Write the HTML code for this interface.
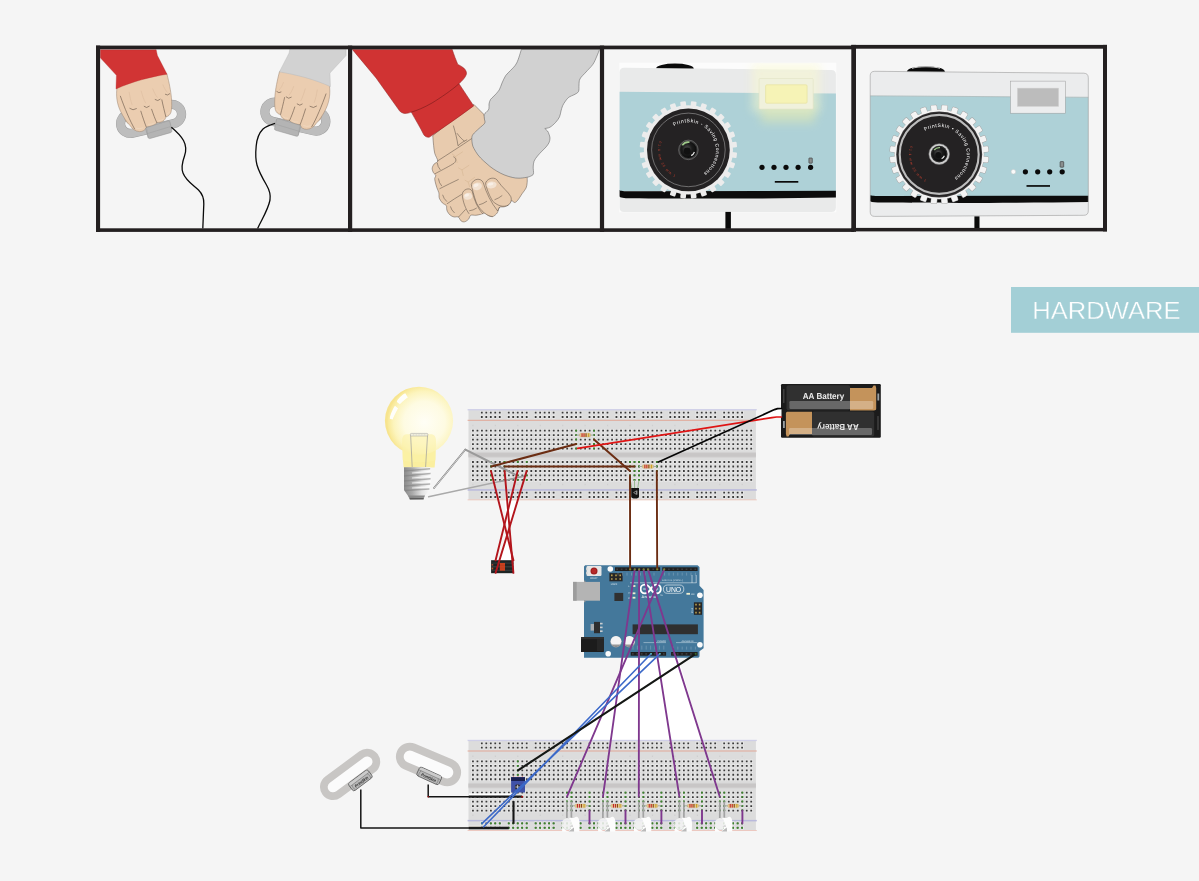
<!DOCTYPE html>
<html lang="en"><head><meta charset="utf-8"><title>Hardware</title>
<style>
html,body{margin:0;padding:0;background:#f5f5f5;}
body{width:1199px;height:881px;overflow:hidden;font-family:"Liberation Sans",sans-serif;}
svg{display:block}
svg text{font-family:"Liberation Sans",sans-serif;text-rendering:geometricPrecision;opacity:0.99;}
</style></head><body>
<svg width="1199" height="881" viewBox="0 0 1199 881">
<rect width="1199" height="881" fill="#f5f5f5"/>
<!-- panel 1: two hands gripping sensor rings -->
<defs>
<g id="gripHand" transform="translate(96,44) scale(0.11351)">
  <!-- ring -->
  <g transform="translate(485,660) rotate(-13)" fill="none">
    <rect x="-273.5" y="-85.5" width="547" height="171" rx="85.5" stroke="#9d9d9d" stroke-width="81"/>
    <rect x="-273.5" y="-85.5" width="547" height="171" rx="85.5" stroke="#bdbdbd" stroke-width="74"/>
  </g>
  <!-- thumb peeking -->
  <path d="M255,655 C270,640 300,660 300,690 C290,705 265,700 255,655 Z" fill="#ebcdb0" stroke="#9a826e" stroke-width="4.4"/>
  <!-- hand -->
  <path d="M190,300 L185,385 C176,450 182,520 215,590 C240,640 270,690 300,718 C318,745 345,770 385,772 C412,772 436,758 445,732 C458,728 482,728 502,718 C520,710 532,702 538,692 C556,694 582,688 598,674 C610,662 614,650 616,642 C636,638 654,624 661,600 C669,570 668,520 664,470 C660,420 645,340 625,265 L600,240 Z" fill="#ebcdb0" stroke="#9a826e" stroke-width="4.4" stroke-linejoin="round"/>
  <!-- shading -->
  <g fill="none" stroke="#dfc0a3" stroke-width="7" stroke-linecap="round">
    <path d="M292,425 C300,470 305,500 318,535"/>
    <path d="M398,415 C410,455 420,490 437,520"/>
    <path d="M500,395 C512,425 522,450 540,470"/>
    <path d="M590,360 C600,385 612,410 628,425"/>
  </g>
  <!-- finger separations -->
  <g fill="none" stroke="#6a584a" stroke-width="5.6" stroke-linecap="round">
    <path d="M215,460 C250,560 300,680 340,748"/>
    <path d="M395,592 C410,640 430,700 444,734"/>
    <path d="M490,575 C505,620 520,660 536,694"/>
    <path d="M580,492 C590,540 605,600 615,640"/>
    <path d="M298,568 Q325,592 356,570"/>
    <path d="M424,550 Q445,572 469,549"/>
    <path d="M521,490 Q545,510 566,487"/>
    <path d="M611,444 Q630,459 649,439"/>
  </g>
  <g fill="none" stroke="#f4dfcb" stroke-width="4" stroke-linecap="round">
    <path d="M352,742 Q385,752 412,740"/>
    <path d="M462,708 Q490,712 512,698"/>
    <path d="M552,676 Q575,676 592,662"/>
    <path d="M625,618 Q640,612 648,598"/>
  </g>
  <!-- connector -->
  <path d="M438,750 C436,742 440,738 448,735 L632,678 C642,675 648,678 651,686 L668,762 C670,772 666,778 657,781 L478,832 C468,835 462,832 459,824 Z" fill="#b4b4b4" stroke="#939393" stroke-width="4.5"/>
  <path d="M450,790 L655,728" fill="none" stroke="#9b9b9b" stroke-width="4"/>
  <path d="M447,745 L460,826" fill="none" stroke="#9b9b9b" stroke-width="4"/>
</g>
</defs>
<use href="#gripHand"/>
<g transform="translate(96,44) scale(0.11351)"><path d="M38,50 L530,50 L541,102 L626,266 C480,290 320,330 176,396 L180,276 L38,122 Z" fill="#d13434" stroke="#b32b2b" stroke-width="3" stroke-linejoin="round"/></g>
<g transform="translate(446.4,-2.3) scale(-1,1)"><use href="#gripHand"/>
<g transform="translate(96,44) scale(0.11351)"><path d="M38,50 L530,50 L541,102 L626,266 C480,290 320,330 176,396 L180,276 L38,122 Z" fill="#d2d2d2" stroke="#aeaeae" stroke-width="3" stroke-linejoin="round"/></g></g>
<path d="M171.4,127.2 C176,131 181,136 183.5,140.5 C186.5,146 186.6,150 184.5,156 C182,163 181,168 183,173 C186,181 194,185.5 198.5,190 C203.5,195 204,199 203.8,204 L202.8,228.5" fill="none" stroke="#0a0a0a" stroke-width="1.3"/>
<path d="M275,123.4 C270,125 266,126.5 263,129 C258,134 256.8,139 256.2,146 C255.5,153 255.6,160 257,165 C259,172 263,179 266.5,185 C270,191 270.8,195 270,200 C268,210 262,219 257.6,228.5" fill="none" stroke="#0a0a0a" stroke-width="1.3"/>

<!-- panel 2: holding hands -->
<g transform="translate(420,120) scale(0.14178)">
<path d="M90.0,110.0 C91.0,121.7 93.7,159.2 96.0,180.0 C98.3,200.8 99.2,216.7 104.0,235.0 C108.8,253.3 125.7,277.5 125.0,290.0 C124.3,302.5 106.5,301.5 100.0,310.0 C93.5,318.5 86.8,330.7 86.0,341.0 C85.2,351.3 90.8,363.7 95.0,372.0 C99.2,380.3 109.5,384.3 111.0,391.0 C112.5,397.7 104.7,404.7 104.0,412.0 C103.3,419.3 104.7,424.5 107.0,435.0 C109.3,445.5 113.7,462.0 118.0,475.0 C122.3,488.0 130.3,503.0 133.0,513.0 C135.7,523.0 133.2,527.8 134.0,535.0 C134.8,542.2 134.0,547.7 138.0,556.0 C142.0,564.3 150.2,577.2 158.0,585.0 C165.8,592.8 180.0,596.3 185.0,603.0 C190.0,609.7 186.7,618.0 188.0,625.0 C189.3,632.0 189.0,637.5 193.0,645.0 C197.0,652.5 204.2,663.5 212.0,670.0 C219.8,676.5 230.3,681.7 240.0,684.0 C249.7,686.3 261.7,679.3 270.0,684.0 C278.3,688.7 282.5,706.3 290.0,712.0 C297.5,717.7 306.3,720.0 315.0,718.0 C323.7,716.0 334.8,707.7 342.0,700.0 C349.2,692.3 349.2,676.7 358.0,672.0 C366.8,667.3 382.7,673.3 395.0,672.0 C407.3,670.7 421.5,666.7 432.0,664.0 C442.5,661.3 449.2,654.0 458.0,656.0 C466.8,658.0 475.5,672.0 485.0,676.0 C494.5,680.0 505.0,683.5 515.0,680.0 C525.0,676.5 537.5,665.5 545.0,655.0 C552.5,644.5 551.7,624.2 560.0,617.0 C568.3,609.8 584.2,615.3 595.0,612.0 C605.8,608.7 616.7,604.0 625.0,597.0 C633.3,590.0 637.8,572.5 645.0,570.0 C652.2,567.5 660.5,582.8 668.0,582.0 C675.5,581.2 681.3,575.3 690.0,565.0 C698.7,554.7 710.3,534.2 720.0,520.0 C729.7,505.8 742.0,493.3 748.0,480.0 C754.0,466.7 754.7,452.5 756.0,440.0 C757.3,427.5 756.0,410.8 756.0,405.0 L700,300 L560,150 L470,20 L450,-40 L380,-110 L300,-60 Z" fill="#e8cbae" stroke="#4d433b" stroke-width="3.2" stroke-linejoin="round"/>
<g fill="none" stroke="#d9b998" stroke-width="5" stroke-linecap="round">
<path d="M228,240 L250,258 L300,225"/>
<path d="M250,258 L262,300"/>
<path d="M272,338 L296,352 L345,320"/>
<path d="M296,352 L305,392"/>
<path d="M318,425 L340,438 L385,405"/>
<path d="M340,438 L350,470"/>
</g>
<g fill="none" stroke="#4d433b" stroke-width="3.4" stroke-linecap="round" stroke-linejoin="round">
<path d="M125,288 C200,240 290,182 366,130"/>
<path d="M108,378 C160,350 210,325 240,305 C258,290 256,268 238,260"/>
<path d="M140,484 C185,460 230,440 270,420"/>
<path d="M192,590 C225,566 260,546 292,526"/>
<path d="M272,684 C290,666 305,648 320,632"/>
<path d="M122,305 Q124,330 142,350"/>
<path d="M130,415 Q134,445 152,464"/>
<path d="M160,530 Q167,556 188,574"/>
<path d="M215,612 Q221,636 242,654"/>
<path d="M236,42 C250,90 262,135 268,182 C285,165 305,152 330,140"/>
<path d="M262,95 C280,120 295,135 312,148"/>
</g>
<g fill="#e8cbae" stroke="#4d433b" stroke-width="3.4" stroke-linecap="round" stroke-linejoin="round">
<path d="M620,602 C590,615 555,612 512,572 C482,520 468,478 462,445 C480,402 535,400 550,432 C580,478 622,505 640,540 C650,565 640,590 620,602"/>
<path d="M512,682 C470,676 430,645 398,585 C378,530 368,485 362,455 C375,412 430,405 446,442 C468,515 500,582 548,642 L560,617"/>
<path d="M345,660 C322,630 300,570 298,525 C300,490 350,470 368,502 C382,565 405,620 442,662"/>
</g>
<g fill="#f2e2d2" stroke="none"><ellipse cx="338" cy="538" rx="30" ry="24" transform="rotate(-15 338 538)"/><ellipse cx="403" cy="468" rx="34" ry="27" transform="rotate(-15 403 468)"/><ellipse cx="505" cy="458" rx="36" ry="24" transform="rotate(-10 505 458)"/></g>
<g fill="#f8efe6" stroke="none"><ellipse cx="330" cy="530" rx="16" ry="10" transform="rotate(-15 330 530)"/><ellipse cx="396" cy="460" rx="18" ry="11" transform="rotate(-15 396 460)"/><ellipse cx="498" cy="452" rx="20" ry="10" transform="rotate(-10 498 452)"/></g>
<g fill="none" stroke="#4d433b" stroke-width="3.4" stroke-linecap="round">
<path d="M418,598 Q445,592 470,574"/>
<path d="M528,562 Q555,552 578,534"/>
<path d="M350,640 Q375,638 398,622"/>
</g>
</g>
<path d="M352.3,49.4 L452.2,49.4 C454,55 456,60 457.8,64.4 C460,65.5 462,66.5 463.5,67.8 C466,70 467,72.5 466.3,74.6 C465,78 462,81 459,83.7 L473.7,105.9 C460,116 445,126.5 429.5,137.1 C427.5,137.8 425,136.5 423.8,134.8 C420,127 415,119 411.3,112.1 C408,113.5 405.5,113.6 403.3,113.2 C401,112.6 399.6,111.2 398.8,109.8 L376.1,78 Z" fill="#d03333" stroke="#8f1f1f" stroke-width="0.5" stroke-linejoin="round"/>
<path d="M459,83.7 C452,90 441,97.5 432,103 C424,107.6 417,110.5 411.3,112.1" fill="none" stroke="#6e1717" stroke-width="0.55"/>
<path d="M521.4,49.4 C520.6,51.7 518.5,59.5 516.7,63.0 C514.9,66.5 512.4,68.4 510.5,70.5 C508.6,72.6 507.0,73.6 505.6,75.7 C504.2,77.8 503.1,80.6 502.0,83.0 C500.9,85.4 500.5,87.8 499.2,90.0 C497.9,92.2 495.4,94.4 494.0,96.0 C492.6,97.6 491.3,98.2 490.5,99.5 C489.7,100.8 489.3,102.4 489.0,104.0 C488.7,105.6 489.4,107.6 488.9,109.0 C488.4,110.4 486.8,111.6 486.0,112.5 C485.2,113.4 484.5,113.4 484.2,114.5 C483.9,115.6 484.3,117.5 484.4,119.0 C484.5,120.5 485.6,121.6 484.7,123.2 C483.8,124.8 480.9,126.7 479.0,128.5 C477.1,130.3 474.3,132.7 473.1,134.3 C471.9,136.0 471.9,136.8 471.8,138.4 C471.7,140.0 472.0,142.3 472.3,144.0 C472.6,145.7 472.9,146.6 473.9,148.4 C474.8,150.2 476.4,152.9 478.0,155.0 C479.6,157.1 481.8,159.2 483.8,161.1 C485.8,163.0 487.9,164.8 490.0,166.5 C492.1,168.2 494.3,169.6 496.6,171.0 C498.9,172.4 501.4,173.7 504.0,174.8 C506.6,175.9 509.7,176.8 512.2,177.4 C514.7,178.0 516.6,178.2 519.0,178.2 C521.4,178.2 524.4,177.7 526.3,177.4 C528.2,177.1 529.3,176.8 530.5,176.2 C531.7,175.6 532.9,175.4 533.4,173.9 C533.9,172.4 533.1,169.1 533.2,167.0 C533.3,164.9 533.4,162.9 534.1,161.1 C534.8,159.3 536.2,157.7 537.5,156.0 C538.8,154.3 540.5,152.7 541.9,151.2 C543.3,149.7 544.8,148.4 546.0,147.0 C547.2,145.6 548.3,144.2 549.0,142.7 C549.7,141.2 550.0,139.4 550.0,138.0 C550.0,136.6 549.4,135.4 549.0,134.2 C548.6,133.0 548.2,131.9 547.5,131.0 C546.8,130.1 545.2,128.9 544.8,128.5 L544.8,128.5 C545.7,128.3 548.2,128.2 550.0,127.2 C551.8,126.2 553.9,124.2 555.5,122.5 C557.1,120.8 558.6,118.8 559.5,116.9 C560.4,115.0 560.5,112.8 561.0,111.0 C561.5,109.2 561.9,107.5 562.6,105.8 C563.4,104.1 564.4,102.5 565.5,101.0 C566.6,99.5 567.6,98.1 569.0,97.1 C570.4,96.1 572.4,95.7 574.0,94.8 C575.6,93.9 577.7,93.1 578.5,91.5 C579.3,89.9 578.8,87.1 579.0,85.0 C579.2,82.9 578.8,81.1 580.0,78.9 C581.2,76.7 583.9,74.4 586.0,72.0 C588.1,69.6 591.0,67.1 592.7,64.6 C594.5,62.1 595.4,59.5 596.5,57.0 C597.6,54.5 599.1,50.7 599.6,49.4 Z" fill="#d1d1d1" stroke="#555" stroke-width="0.5" stroke-linejoin="round"/>
<!-- camera, flash on -->
<defs><clipPath id="c1clip"><path d="M624.1,67.7 L831.4,70 C834.4,70.1 835.9,71.8 835.9,74.6 V207.4 C835.9,210.4 834.4,211.9 831.4,211.9 H624.1 C621.1,211.9 619.6,210.4 619.6,207.4 V72.2 C619.6,69.2 621.1,67.7 624.1,67.7 Z"/></clipPath>
<radialGradient id="glow" cx="0.5" cy="0.5" r="0.5"><stop offset="0" stop-color="#fbf7b0" stop-opacity="0.95"/><stop offset="0.55" stop-color="#f8f5b8" stop-opacity="0.55"/><stop offset="1" stop-color="#f8f5c0" stop-opacity="0"/></radialGradient>
<radialGradient id="lensg" cx="0.42" cy="0.42" r="0.6"><stop offset="0" stop-color="#555"/><stop offset="0.5" stop-color="#1c1c1c"/><stop offset="1" stop-color="#0a0a0a"/></radialGradient>
</defs>
<rect x="619.2" y="62.8" width="217.1" height="149.5" fill="#fcfcfc"/>
<ellipse cx="674.9" cy="68.6" rx="18.8" ry="5" fill="#0a0a0a"/>
<g clip-path="url(#c1clip)">
<rect x="619" y="67" width="218" height="146" fill="#e9eaea"/>
<path d="M619,91.8 L837,93.6 V191 H619 Z" fill="#aed1d7"/>
<path d="M619,190 C621,191.4 626,191.3 640,191.2 L837,190.8 L837,197.6 C760,199 680,198.6 630,198.2 C624,198.2 620,197.6 619,196.2 Z" fill="#0c0c0c"/>
</g>
<defs><filter id="blur5" x="-50%" y="-50%" width="200%" height="200%"><feGaussianBlur stdDeviation="5"/></filter></defs>
<defs><clipPath id="c1bg"><rect x="619.2" y="62.8" width="217.1" height="149.5"/></clipPath></defs>
<g clip-path="url(#c1bg)"><rect x="752" y="64" width="68" height="48" fill="#fbfacc" opacity="0.5" filter="url(#blur5)"/>
<rect x="761" y="104" width="54" height="19" fill="#f3f2a8" opacity="0.42" filter="url(#blur5)"/></g>
<rect x="759.1" y="78.5" width="54.1" height="30.6" rx="0.8" fill="#f0f1dc" stroke="#e2e3c6" stroke-width="0.6"/>
<rect x="765.6" y="84.8" width="41.5" height="18.4" rx="1.2" fill="#f6f3b6" stroke="#e6e3a2" stroke-width="0.7"/>
<g transform="translate(688.4,149.9)">
<rect x="-2.80" y="-48.70" width="5.60" height="6.10" rx="0.9" transform="rotate(6.43)" fill="#ececec"/>
<rect x="-2.80" y="-48.70" width="5.60" height="6.10" rx="0.9" transform="rotate(19.29)" fill="#ececec"/>
<rect x="-2.80" y="-48.70" width="5.60" height="6.10" rx="0.9" transform="rotate(32.14)" fill="#ececec"/>
<rect x="-2.80" y="-48.70" width="5.60" height="6.10" rx="0.9" transform="rotate(45.00)" fill="#ececec"/>
<rect x="-2.80" y="-48.70" width="5.60" height="6.10" rx="0.9" transform="rotate(57.86)" fill="#ececec"/>
<rect x="-2.80" y="-48.70" width="5.60" height="6.10" rx="0.9" transform="rotate(70.72)" fill="#ececec"/>
<rect x="-2.80" y="-48.70" width="5.60" height="6.10" rx="0.9" transform="rotate(83.57)" fill="#ececec"/>
<rect x="-2.80" y="-48.70" width="5.60" height="6.10" rx="0.9" transform="rotate(96.43)" fill="#ececec"/>
<rect x="-2.80" y="-48.70" width="5.60" height="6.10" rx="0.9" transform="rotate(109.29)" fill="#ececec"/>
<rect x="-2.80" y="-48.70" width="5.60" height="6.10" rx="0.9" transform="rotate(122.14)" fill="#ececec"/>
<rect x="-2.80" y="-48.70" width="5.60" height="6.10" rx="0.9" transform="rotate(135.00)" fill="#ececec"/>
<rect x="-2.80" y="-48.70" width="5.60" height="6.10" rx="0.9" transform="rotate(147.86)" fill="#ececec"/>
<rect x="-2.80" y="-48.70" width="5.60" height="6.10" rx="0.9" transform="rotate(160.72)" fill="#ececec"/>
<rect x="-2.80" y="-48.70" width="5.60" height="6.10" rx="0.9" transform="rotate(173.57)" fill="#ececec"/>
<rect x="-2.80" y="-48.70" width="5.60" height="6.10" rx="0.9" transform="rotate(186.43)" fill="#ececec"/>
<rect x="-2.80" y="-48.70" width="5.60" height="6.10" rx="0.9" transform="rotate(199.29)" fill="#ececec"/>
<rect x="-2.80" y="-48.70" width="5.60" height="6.10" rx="0.9" transform="rotate(212.14)" fill="#ececec"/>
<rect x="-2.80" y="-48.70" width="5.60" height="6.10" rx="0.9" transform="rotate(225.00)" fill="#ececec"/>
<rect x="-2.80" y="-48.70" width="5.60" height="6.10" rx="0.9" transform="rotate(237.86)" fill="#ececec"/>
<rect x="-2.80" y="-48.70" width="5.60" height="6.10" rx="0.9" transform="rotate(250.72)" fill="#ececec"/>
<rect x="-2.80" y="-48.70" width="5.60" height="6.10" rx="0.9" transform="rotate(263.57)" fill="#ececec"/>
<rect x="-2.80" y="-48.70" width="5.60" height="6.10" rx="0.9" transform="rotate(276.43)" fill="#ececec"/>
<rect x="-2.80" y="-48.70" width="5.60" height="6.10" rx="0.9" transform="rotate(289.29)" fill="#ececec"/>
<rect x="-2.80" y="-48.70" width="5.60" height="6.10" rx="0.9" transform="rotate(302.14)" fill="#ececec"/>
<rect x="-2.80" y="-48.70" width="5.60" height="6.10" rx="0.9" transform="rotate(315.00)" fill="#ececec"/>
<rect x="-2.80" y="-48.70" width="5.60" height="6.10" rx="0.9" transform="rotate(327.86)" fill="#ececec"/>
<rect x="-2.80" y="-48.70" width="5.60" height="6.10" rx="0.9" transform="rotate(340.72)" fill="#ececec"/>
<rect x="-2.80" y="-48.70" width="5.60" height="6.10" rx="0.9" transform="rotate(353.57)" fill="#ececec"/>
<circle r="44.6" fill="#ececec"/>
</g>
<circle cx="688.4" cy="149.9" r="41.4" fill="#242223"/>
<circle cx="688.4" cy="149.9" r="36.8" fill="none" stroke="#b8b8b8" stroke-width="0.5"/>
<circle cx="688.4" cy="149.9" r="9.8" fill="#3a3a3a" stroke="#8c8c8c" stroke-width="0.5"/>
<circle cx="688.4" cy="149.9" r="8.2" fill="url(#lensg)"/>
<path d="M682.3,145.2 A7.6,7.6 0 0 1 689.5,142.2" fill="none" stroke="#9fc98a" stroke-width="1.6"/>
<path d="M691.2,155.6 A6.3,6.3 0 0 0 694.4,152" fill="none" stroke="#e8e8e8" stroke-width="1.2"/>
<circle cx="687.2" cy="151" r="3.4" fill="#111"/>
<path id="l1a" d="M674.18,126.24 A27.6,27.6 0 1 1 693.19,177.08" fill="none"/><path id="l1b" d="M659.33,141.01 A30.4,30.4 0 0 0 685.75,180.18" fill="none"/><text opacity="0.99" font-size="5" fill="#ffffff" textLength="85.3" lengthAdjust="spacing"><textPath href="#l1a" textLength="85.3" lengthAdjust="spacing">PrintSkin - Saving Connections</textPath></text><text opacity="0.99" font-size="3.4" fill="#d0402f" textLength="42.4" lengthAdjust="spacing"><textPath href="#l1b" textLength="42.4" lengthAdjust="spacing">F1.1 mm 35 mm 1</textPath></text>
<circle cx="762" cy="167.3" r="2.6" fill="#0a0a0a"/>
<circle cx="774" cy="167.3" r="2.6" fill="#0a0a0a"/>
<circle cx="786" cy="167.3" r="2.6" fill="#0a0a0a"/>
<circle cx="798.1" cy="167.3" r="2.6" fill="#0a0a0a"/>
<circle cx="810.6" cy="167.3" r="2.6" fill="#0a0a0a"/>
<rect x="808.9" y="158" width="3.4" height="5.2" rx="0.6" fill="#8a8f8f" stroke="#333" stroke-width="0.6"/>
<rect x="774.8" y="181" width="23.5" height="1.7" fill="#0a0a0a"/>
<rect x="725.4" y="211.9" width="5.5" height="17" fill="#0a0a0a"/>
<!-- camera, flash off -->
<defs><clipPath id="c2clip"><path id="c2body" d="M874.7,71.3 L1083.8,73.2 C1086.8,73.3 1088.3,74.8 1088.3,77.8 V210.8 C1088.3,213.8 1086.8,215.3 1083.8,215.3 L874.7,216.4 C871.7,216.4 870.2,214.9 870.2,211.9 V75.8 C870.2,72.8 871.7,71.3 874.7,71.3 Z"/></clipPath></defs>
<ellipse cx="925.9" cy="71.4" rx="18.9" ry="5.2" fill="#0a0a0a"/>
<path d="M912,68.4 C918,66.2 934,66.2 940,68.4" fill="none" stroke="#d8d8d8" stroke-width="0.9"/>
<g clip-path="url(#c2clip)">
<rect x="869" y="70" width="221" height="148" fill="#ebeced"/>
<path d="M869,95.9 L1090,97.4 V196.2 H869 Z" fill="#aed1d7"/>
<path d="M869,95.8 L1090,97.3" stroke="#9aa" stroke-width="0.6" fill="none"/>
<path d="M869,195 C872,196.2 876,196.1 890,196 L1090,195.8 L1090,202 C1010,203.2 930,203 882,202.6 C875,202.6 871,202 869,200.6 Z" fill="#0c0c0c"/>
</g>
<use href="#c2body" fill="none" stroke="#9c9c9c" stroke-width="0.6"/>
<rect x="1010.5" y="81.1" width="54.8" height="32.1" fill="#ecedee" stroke="#9a9a9a" stroke-width="0.5"/>
<rect x="1017.3" y="88.1" width="41.4" height="18.4" fill="#bcbcbc" stroke="#d5d5d5" stroke-width="0.5"/>
<g transform="translate(939.2,154.4)">
<rect x="-2.80" y="-49.30" width="5.60" height="6.70" rx="0.9" transform="rotate(6.43)" fill="#f3f3f3" stroke="#a6a6a6" stroke-width="1"/>
<rect x="-2.80" y="-49.30" width="5.60" height="6.70" rx="0.9" transform="rotate(19.29)" fill="#f3f3f3" stroke="#a6a6a6" stroke-width="1"/>
<rect x="-2.80" y="-49.30" width="5.60" height="6.70" rx="0.9" transform="rotate(32.14)" fill="#f3f3f3" stroke="#a6a6a6" stroke-width="1"/>
<rect x="-2.80" y="-49.30" width="5.60" height="6.70" rx="0.9" transform="rotate(45.00)" fill="#f3f3f3" stroke="#a6a6a6" stroke-width="1"/>
<rect x="-2.80" y="-49.30" width="5.60" height="6.70" rx="0.9" transform="rotate(57.86)" fill="#f3f3f3" stroke="#a6a6a6" stroke-width="1"/>
<rect x="-2.80" y="-49.30" width="5.60" height="6.70" rx="0.9" transform="rotate(70.72)" fill="#f3f3f3" stroke="#a6a6a6" stroke-width="1"/>
<rect x="-2.80" y="-49.30" width="5.60" height="6.70" rx="0.9" transform="rotate(83.57)" fill="#f3f3f3" stroke="#a6a6a6" stroke-width="1"/>
<rect x="-2.80" y="-49.30" width="5.60" height="6.70" rx="0.9" transform="rotate(96.43)" fill="#f3f3f3" stroke="#a6a6a6" stroke-width="1"/>
<rect x="-2.80" y="-49.30" width="5.60" height="6.70" rx="0.9" transform="rotate(109.29)" fill="#f3f3f3" stroke="#a6a6a6" stroke-width="1"/>
<rect x="-2.80" y="-49.30" width="5.60" height="6.70" rx="0.9" transform="rotate(122.14)" fill="#f3f3f3" stroke="#a6a6a6" stroke-width="1"/>
<rect x="-2.80" y="-49.30" width="5.60" height="6.70" rx="0.9" transform="rotate(135.00)" fill="#f3f3f3" stroke="#a6a6a6" stroke-width="1"/>
<rect x="-2.80" y="-49.30" width="5.60" height="6.70" rx="0.9" transform="rotate(147.86)" fill="#f3f3f3" stroke="#a6a6a6" stroke-width="1"/>
<rect x="-2.80" y="-49.30" width="5.60" height="6.70" rx="0.9" transform="rotate(160.72)" fill="#f3f3f3" stroke="#a6a6a6" stroke-width="1"/>
<rect x="-2.80" y="-49.30" width="5.60" height="6.70" rx="0.9" transform="rotate(173.57)" fill="#f3f3f3" stroke="#a6a6a6" stroke-width="1"/>
<rect x="-2.80" y="-49.30" width="5.60" height="6.70" rx="0.9" transform="rotate(186.43)" fill="#f3f3f3" stroke="#a6a6a6" stroke-width="1"/>
<rect x="-2.80" y="-49.30" width="5.60" height="6.70" rx="0.9" transform="rotate(199.29)" fill="#f3f3f3" stroke="#a6a6a6" stroke-width="1"/>
<rect x="-2.80" y="-49.30" width="5.60" height="6.70" rx="0.9" transform="rotate(212.14)" fill="#f3f3f3" stroke="#a6a6a6" stroke-width="1"/>
<rect x="-2.80" y="-49.30" width="5.60" height="6.70" rx="0.9" transform="rotate(225.00)" fill="#f3f3f3" stroke="#a6a6a6" stroke-width="1"/>
<rect x="-2.80" y="-49.30" width="5.60" height="6.70" rx="0.9" transform="rotate(237.86)" fill="#f3f3f3" stroke="#a6a6a6" stroke-width="1"/>
<rect x="-2.80" y="-49.30" width="5.60" height="6.70" rx="0.9" transform="rotate(250.72)" fill="#f3f3f3" stroke="#a6a6a6" stroke-width="1"/>
<rect x="-2.80" y="-49.30" width="5.60" height="6.70" rx="0.9" transform="rotate(263.57)" fill="#f3f3f3" stroke="#a6a6a6" stroke-width="1"/>
<rect x="-2.80" y="-49.30" width="5.60" height="6.70" rx="0.9" transform="rotate(276.43)" fill="#f3f3f3" stroke="#a6a6a6" stroke-width="1"/>
<rect x="-2.80" y="-49.30" width="5.60" height="6.70" rx="0.9" transform="rotate(289.29)" fill="#f3f3f3" stroke="#a6a6a6" stroke-width="1"/>
<rect x="-2.80" y="-49.30" width="5.60" height="6.70" rx="0.9" transform="rotate(302.14)" fill="#f3f3f3" stroke="#a6a6a6" stroke-width="1"/>
<rect x="-2.80" y="-49.30" width="5.60" height="6.70" rx="0.9" transform="rotate(315.00)" fill="#f3f3f3" stroke="#a6a6a6" stroke-width="1"/>
<rect x="-2.80" y="-49.30" width="5.60" height="6.70" rx="0.9" transform="rotate(327.86)" fill="#f3f3f3" stroke="#a6a6a6" stroke-width="1"/>
<rect x="-2.80" y="-49.30" width="5.60" height="6.70" rx="0.9" transform="rotate(340.72)" fill="#f3f3f3" stroke="#a6a6a6" stroke-width="1"/>
<rect x="-2.80" y="-49.30" width="5.60" height="6.70" rx="0.9" transform="rotate(353.57)" fill="#f3f3f3" stroke="#a6a6a6" stroke-width="1"/>
<circle r="44.6" fill="#f3f3f3" stroke="#a6a6a6" stroke-width="1"/>
<rect x="-2.80" y="-49.30" width="5.60" height="6.70" rx="0.9" transform="rotate(6.43)" fill="#f3f3f3"/>
<rect x="-2.80" y="-49.30" width="5.60" height="6.70" rx="0.9" transform="rotate(19.29)" fill="#f3f3f3"/>
<rect x="-2.80" y="-49.30" width="5.60" height="6.70" rx="0.9" transform="rotate(32.14)" fill="#f3f3f3"/>
<rect x="-2.80" y="-49.30" width="5.60" height="6.70" rx="0.9" transform="rotate(45.00)" fill="#f3f3f3"/>
<rect x="-2.80" y="-49.30" width="5.60" height="6.70" rx="0.9" transform="rotate(57.86)" fill="#f3f3f3"/>
<rect x="-2.80" y="-49.30" width="5.60" height="6.70" rx="0.9" transform="rotate(70.72)" fill="#f3f3f3"/>
<rect x="-2.80" y="-49.30" width="5.60" height="6.70" rx="0.9" transform="rotate(83.57)" fill="#f3f3f3"/>
<rect x="-2.80" y="-49.30" width="5.60" height="6.70" rx="0.9" transform="rotate(96.43)" fill="#f3f3f3"/>
<rect x="-2.80" y="-49.30" width="5.60" height="6.70" rx="0.9" transform="rotate(109.29)" fill="#f3f3f3"/>
<rect x="-2.80" y="-49.30" width="5.60" height="6.70" rx="0.9" transform="rotate(122.14)" fill="#f3f3f3"/>
<rect x="-2.80" y="-49.30" width="5.60" height="6.70" rx="0.9" transform="rotate(135.00)" fill="#f3f3f3"/>
<rect x="-2.80" y="-49.30" width="5.60" height="6.70" rx="0.9" transform="rotate(147.86)" fill="#f3f3f3"/>
<rect x="-2.80" y="-49.30" width="5.60" height="6.70" rx="0.9" transform="rotate(160.72)" fill="#f3f3f3"/>
<rect x="-2.80" y="-49.30" width="5.60" height="6.70" rx="0.9" transform="rotate(173.57)" fill="#f3f3f3"/>
<rect x="-2.80" y="-49.30" width="5.60" height="6.70" rx="0.9" transform="rotate(186.43)" fill="#f3f3f3"/>
<rect x="-2.80" y="-49.30" width="5.60" height="6.70" rx="0.9" transform="rotate(199.29)" fill="#f3f3f3"/>
<rect x="-2.80" y="-49.30" width="5.60" height="6.70" rx="0.9" transform="rotate(212.14)" fill="#f3f3f3"/>
<rect x="-2.80" y="-49.30" width="5.60" height="6.70" rx="0.9" transform="rotate(225.00)" fill="#f3f3f3"/>
<rect x="-2.80" y="-49.30" width="5.60" height="6.70" rx="0.9" transform="rotate(237.86)" fill="#f3f3f3"/>
<rect x="-2.80" y="-49.30" width="5.60" height="6.70" rx="0.9" transform="rotate(250.72)" fill="#f3f3f3"/>
<rect x="-2.80" y="-49.30" width="5.60" height="6.70" rx="0.9" transform="rotate(263.57)" fill="#f3f3f3"/>
<rect x="-2.80" y="-49.30" width="5.60" height="6.70" rx="0.9" transform="rotate(276.43)" fill="#f3f3f3"/>
<rect x="-2.80" y="-49.30" width="5.60" height="6.70" rx="0.9" transform="rotate(289.29)" fill="#f3f3f3"/>
<rect x="-2.80" y="-49.30" width="5.60" height="6.70" rx="0.9" transform="rotate(302.14)" fill="#f3f3f3"/>
<rect x="-2.80" y="-49.30" width="5.60" height="6.70" rx="0.9" transform="rotate(315.00)" fill="#f3f3f3"/>
<rect x="-2.80" y="-49.30" width="5.60" height="6.70" rx="0.9" transform="rotate(327.86)" fill="#f3f3f3"/>
<rect x="-2.80" y="-49.30" width="5.60" height="6.70" rx="0.9" transform="rotate(340.72)" fill="#f3f3f3"/>
<rect x="-2.80" y="-49.30" width="5.60" height="6.70" rx="0.9" transform="rotate(353.57)" fill="#f3f3f3"/>
<circle r="44.6" fill="#f3f3f3"/>
</g>
<circle cx="939.2" cy="154.4" r="43" fill="#3a3839"/>
<circle cx="939.2" cy="154.4" r="42" fill="#242223"/>
<circle cx="939.2" cy="154.4" r="39.5" fill="none" stroke="#bdbdbd" stroke-width="2.1"/>
<circle cx="939.2" cy="154.1" r="10.4" fill="#cfcfcf" stroke="#777" stroke-width="0.5"/>
<circle cx="939.2" cy="154.1" r="8.4" fill="#2a2a2a"/>
<circle cx="939.2" cy="154.1" r="7.2" fill="url(#lensg)"/>
<path d="M934.2,150 A6.6,6.6 0 0 1 940,147.6" fill="none" stroke="#9fc98a" stroke-width="1.3"/>
<path d="M941.6,158.8 A5.4,5.4 0 0 0 944.4,155.8" fill="none" stroke="#e8e8e8" stroke-width="1.1"/>
<circle cx="938.3" cy="155" r="3" fill="#111"/>
<path id="l2a" d="M925.08,130.94 A27.6,27.6 0 1 1 944.09,181.78" fill="none"/><path id="l2b" d="M910.23,145.71 A30.4,30.4 0 0 0 936.65,184.88" fill="none"/><text opacity="0.99" font-size="5" fill="#ffffff" textLength="85.3" lengthAdjust="spacing"><textPath href="#l2a" textLength="85.3" lengthAdjust="spacing">PrintSkin • Saving Connections</textPath></text><text opacity="0.99" font-size="3.4" fill="#d0402f" textLength="42.4" lengthAdjust="spacing"><textPath href="#l2b" textLength="42.4" lengthAdjust="spacing">F1.1 mm 35 mm 1</textPath></text>
<circle cx="1013.4" cy="171.8" r="2.3" fill="#fafafa" stroke="#c9c9c9" stroke-width="0.5"/>
<circle cx="1025.4" cy="171.8" r="2.6" fill="#0a0a0a"/>
<circle cx="1037.7" cy="171.8" r="2.6" fill="#0a0a0a"/>
<circle cx="1049.7" cy="171.8" r="2.6" fill="#0a0a0a"/>
<circle cx="1062.2" cy="171.8" r="2.6" fill="#0a0a0a"/>
<rect x="1060.1" y="161.6" width="3.6" height="5.6" rx="0.6" fill="#8a8f8f" stroke="#333" stroke-width="0.6"/>
<rect x="1026.5" y="185.1" width="23.5" height="1.7" fill="#0a0a0a"/>
<rect x="974.4" y="216.4" width="5.1" height="12.5" fill="#0a0a0a"/>
<!-- storyboard frame -->
<g fill="#231f20">
<rect x="96" y="45.6" width="758" height="3.7"/>
<rect x="96" y="228.3" width="758" height="3.6"/>
<rect x="96" y="45.6" width="4.1" height="186.3"/>
<rect x="348" y="45.6" width="4.2" height="186.3"/>
<rect x="599.9" y="45.6" width="4.2" height="186.3"/>
<rect x="851.3" y="44.9" width="4.7" height="186.9"/>
<rect x="851.3" y="44.9" width="255.7" height="3.8"/>
<rect x="851.3" y="227.9" width="255.7" height="3.5"/>
<rect x="1103" y="44.9" width="4" height="186.5"/>
</g>

<!-- section label -->
<rect x="1011" y="287" width="188" height="45.8" fill="#a3cfd6"/>
<text x="1032.2" y="318.8" font-size="24.8" fill="#ffffff" stroke="#a3cfd6" stroke-width="0.35" textLength="148.3" lengthAdjust="spacingAndGlyphs">HARDWARE</text>

<!-- hardware wiring diagram -->
<g fill="#ffffff">
<polygon points="628,500 659.1,500 659.1,567 628,567"/>
<polygon points="623,657.5 678.5,657.5 702,741 564.5,741 616,689"/>
<polygon points="504.6,500.5 517.7,500.5 509,530 506.6,524"/>
<polygon points="507.1,535.2 513.4,560.3 499.5,560.3"/>
</g>
<defs><g id="bbRow"><path d="M-1.70,-1.7h3.4v3.4h-3.4zM2.79,-1.7h3.4v3.4h-3.4zM7.28,-1.7h3.4v3.4h-3.4zM11.76,-1.7h3.4v3.4h-3.4zM16.25,-1.7h3.4v3.4h-3.4zM20.74,-1.7h3.4v3.4h-3.4zM25.23,-1.7h3.4v3.4h-3.4zM29.72,-1.7h3.4v3.4h-3.4zM34.20,-1.7h3.4v3.4h-3.4zM38.69,-1.7h3.4v3.4h-3.4zM43.18,-1.7h3.4v3.4h-3.4zM47.67,-1.7h3.4v3.4h-3.4zM52.16,-1.7h3.4v3.4h-3.4zM56.64,-1.7h3.4v3.4h-3.4zM61.13,-1.7h3.4v3.4h-3.4zM65.62,-1.7h3.4v3.4h-3.4zM70.11,-1.7h3.4v3.4h-3.4zM74.60,-1.7h3.4v3.4h-3.4zM79.08,-1.7h3.4v3.4h-3.4zM83.57,-1.7h3.4v3.4h-3.4zM88.06,-1.7h3.4v3.4h-3.4zM92.55,-1.7h3.4v3.4h-3.4zM97.04,-1.7h3.4v3.4h-3.4zM101.52,-1.7h3.4v3.4h-3.4zM106.01,-1.7h3.4v3.4h-3.4zM110.50,-1.7h3.4v3.4h-3.4zM114.99,-1.7h3.4v3.4h-3.4zM119.48,-1.7h3.4v3.4h-3.4zM123.96,-1.7h3.4v3.4h-3.4zM128.45,-1.7h3.4v3.4h-3.4zM132.94,-1.7h3.4v3.4h-3.4zM137.43,-1.7h3.4v3.4h-3.4zM141.92,-1.7h3.4v3.4h-3.4zM146.40,-1.7h3.4v3.4h-3.4zM150.89,-1.7h3.4v3.4h-3.4zM155.38,-1.7h3.4v3.4h-3.4zM159.87,-1.7h3.4v3.4h-3.4zM164.36,-1.7h3.4v3.4h-3.4zM168.84,-1.7h3.4v3.4h-3.4zM173.33,-1.7h3.4v3.4h-3.4zM177.82,-1.7h3.4v3.4h-3.4zM182.31,-1.7h3.4v3.4h-3.4zM186.80,-1.7h3.4v3.4h-3.4zM191.28,-1.7h3.4v3.4h-3.4zM195.77,-1.7h3.4v3.4h-3.4zM200.26,-1.7h3.4v3.4h-3.4zM204.75,-1.7h3.4v3.4h-3.4zM209.24,-1.7h3.4v3.4h-3.4zM213.72,-1.7h3.4v3.4h-3.4zM218.21,-1.7h3.4v3.4h-3.4zM222.70,-1.7h3.4v3.4h-3.4zM227.19,-1.7h3.4v3.4h-3.4zM231.68,-1.7h3.4v3.4h-3.4zM236.16,-1.7h3.4v3.4h-3.4zM240.65,-1.7h3.4v3.4h-3.4zM245.14,-1.7h3.4v3.4h-3.4zM249.63,-1.7h3.4v3.4h-3.4zM254.12,-1.7h3.4v3.4h-3.4zM258.60,-1.7h3.4v3.4h-3.4zM263.09,-1.7h3.4v3.4h-3.4zM267.58,-1.7h3.4v3.4h-3.4zM272.07,-1.7h3.4v3.4h-3.4zM276.56,-1.7h3.4v3.4h-3.4z" fill="#e9e9e9"/><path d="M-0.90,-0.9h1.8v1.8h-1.8zM3.59,-0.9h1.8v1.8h-1.8zM8.08,-0.9h1.8v1.8h-1.8zM12.56,-0.9h1.8v1.8h-1.8zM17.05,-0.9h1.8v1.8h-1.8zM21.54,-0.9h1.8v1.8h-1.8zM26.03,-0.9h1.8v1.8h-1.8zM30.52,-0.9h1.8v1.8h-1.8zM35.00,-0.9h1.8v1.8h-1.8zM39.49,-0.9h1.8v1.8h-1.8zM43.98,-0.9h1.8v1.8h-1.8zM48.47,-0.9h1.8v1.8h-1.8zM52.96,-0.9h1.8v1.8h-1.8zM57.44,-0.9h1.8v1.8h-1.8zM61.93,-0.9h1.8v1.8h-1.8zM66.42,-0.9h1.8v1.8h-1.8zM70.91,-0.9h1.8v1.8h-1.8zM75.40,-0.9h1.8v1.8h-1.8zM79.88,-0.9h1.8v1.8h-1.8zM84.37,-0.9h1.8v1.8h-1.8zM88.86,-0.9h1.8v1.8h-1.8zM93.35,-0.9h1.8v1.8h-1.8zM97.84,-0.9h1.8v1.8h-1.8zM102.32,-0.9h1.8v1.8h-1.8zM106.81,-0.9h1.8v1.8h-1.8zM111.30,-0.9h1.8v1.8h-1.8zM115.79,-0.9h1.8v1.8h-1.8zM120.28,-0.9h1.8v1.8h-1.8zM124.76,-0.9h1.8v1.8h-1.8zM129.25,-0.9h1.8v1.8h-1.8zM133.74,-0.9h1.8v1.8h-1.8zM138.23,-0.9h1.8v1.8h-1.8zM142.72,-0.9h1.8v1.8h-1.8zM147.20,-0.9h1.8v1.8h-1.8zM151.69,-0.9h1.8v1.8h-1.8zM156.18,-0.9h1.8v1.8h-1.8zM160.67,-0.9h1.8v1.8h-1.8zM165.16,-0.9h1.8v1.8h-1.8zM169.64,-0.9h1.8v1.8h-1.8zM174.13,-0.9h1.8v1.8h-1.8zM178.62,-0.9h1.8v1.8h-1.8zM183.11,-0.9h1.8v1.8h-1.8zM187.60,-0.9h1.8v1.8h-1.8zM192.08,-0.9h1.8v1.8h-1.8zM196.57,-0.9h1.8v1.8h-1.8zM201.06,-0.9h1.8v1.8h-1.8zM205.55,-0.9h1.8v1.8h-1.8zM210.04,-0.9h1.8v1.8h-1.8zM214.52,-0.9h1.8v1.8h-1.8zM219.01,-0.9h1.8v1.8h-1.8zM223.50,-0.9h1.8v1.8h-1.8zM227.99,-0.9h1.8v1.8h-1.8zM232.48,-0.9h1.8v1.8h-1.8zM236.96,-0.9h1.8v1.8h-1.8zM241.45,-0.9h1.8v1.8h-1.8zM245.94,-0.9h1.8v1.8h-1.8zM250.43,-0.9h1.8v1.8h-1.8zM254.92,-0.9h1.8v1.8h-1.8zM259.40,-0.9h1.8v1.8h-1.8zM263.89,-0.9h1.8v1.8h-1.8zM268.38,-0.9h1.8v1.8h-1.8zM272.87,-0.9h1.8v1.8h-1.8zM277.36,-0.9h1.8v1.8h-1.8z" fill="#3b3b3b"/></g><g id="bbRail"><path d="M-1.70,-1.7h3.4v3.4h-3.4zM2.79,-1.7h3.4v3.4h-3.4zM7.28,-1.7h3.4v3.4h-3.4zM11.76,-1.7h3.4v3.4h-3.4zM16.25,-1.7h3.4v3.4h-3.4zM25.23,-1.7h3.4v3.4h-3.4zM29.72,-1.7h3.4v3.4h-3.4zM34.20,-1.7h3.4v3.4h-3.4zM38.69,-1.7h3.4v3.4h-3.4zM43.18,-1.7h3.4v3.4h-3.4zM52.16,-1.7h3.4v3.4h-3.4zM56.64,-1.7h3.4v3.4h-3.4zM61.13,-1.7h3.4v3.4h-3.4zM65.62,-1.7h3.4v3.4h-3.4zM70.11,-1.7h3.4v3.4h-3.4zM79.08,-1.7h3.4v3.4h-3.4zM83.57,-1.7h3.4v3.4h-3.4zM88.06,-1.7h3.4v3.4h-3.4zM92.55,-1.7h3.4v3.4h-3.4zM97.04,-1.7h3.4v3.4h-3.4zM106.01,-1.7h3.4v3.4h-3.4zM110.50,-1.7h3.4v3.4h-3.4zM114.99,-1.7h3.4v3.4h-3.4zM119.48,-1.7h3.4v3.4h-3.4zM123.96,-1.7h3.4v3.4h-3.4zM132.94,-1.7h3.4v3.4h-3.4zM137.43,-1.7h3.4v3.4h-3.4zM141.92,-1.7h3.4v3.4h-3.4zM146.40,-1.7h3.4v3.4h-3.4zM150.89,-1.7h3.4v3.4h-3.4zM159.87,-1.7h3.4v3.4h-3.4zM164.36,-1.7h3.4v3.4h-3.4zM168.84,-1.7h3.4v3.4h-3.4zM173.33,-1.7h3.4v3.4h-3.4zM177.82,-1.7h3.4v3.4h-3.4zM186.80,-1.7h3.4v3.4h-3.4zM191.28,-1.7h3.4v3.4h-3.4zM195.77,-1.7h3.4v3.4h-3.4zM200.26,-1.7h3.4v3.4h-3.4zM204.75,-1.7h3.4v3.4h-3.4zM213.72,-1.7h3.4v3.4h-3.4zM218.21,-1.7h3.4v3.4h-3.4zM222.70,-1.7h3.4v3.4h-3.4zM227.19,-1.7h3.4v3.4h-3.4zM231.68,-1.7h3.4v3.4h-3.4zM240.65,-1.7h3.4v3.4h-3.4zM245.14,-1.7h3.4v3.4h-3.4zM249.63,-1.7h3.4v3.4h-3.4zM254.12,-1.7h3.4v3.4h-3.4zM258.60,-1.7h3.4v3.4h-3.4z" fill="#e9e9e9"/><path d="M-0.90,-0.9h1.8v1.8h-1.8zM3.59,-0.9h1.8v1.8h-1.8zM8.08,-0.9h1.8v1.8h-1.8zM12.56,-0.9h1.8v1.8h-1.8zM17.05,-0.9h1.8v1.8h-1.8zM26.03,-0.9h1.8v1.8h-1.8zM30.52,-0.9h1.8v1.8h-1.8zM35.00,-0.9h1.8v1.8h-1.8zM39.49,-0.9h1.8v1.8h-1.8zM43.98,-0.9h1.8v1.8h-1.8zM52.96,-0.9h1.8v1.8h-1.8zM57.44,-0.9h1.8v1.8h-1.8zM61.93,-0.9h1.8v1.8h-1.8zM66.42,-0.9h1.8v1.8h-1.8zM70.91,-0.9h1.8v1.8h-1.8zM79.88,-0.9h1.8v1.8h-1.8zM84.37,-0.9h1.8v1.8h-1.8zM88.86,-0.9h1.8v1.8h-1.8zM93.35,-0.9h1.8v1.8h-1.8zM97.84,-0.9h1.8v1.8h-1.8zM106.81,-0.9h1.8v1.8h-1.8zM111.30,-0.9h1.8v1.8h-1.8zM115.79,-0.9h1.8v1.8h-1.8zM120.28,-0.9h1.8v1.8h-1.8zM124.76,-0.9h1.8v1.8h-1.8zM133.74,-0.9h1.8v1.8h-1.8zM138.23,-0.9h1.8v1.8h-1.8zM142.72,-0.9h1.8v1.8h-1.8zM147.20,-0.9h1.8v1.8h-1.8zM151.69,-0.9h1.8v1.8h-1.8zM160.67,-0.9h1.8v1.8h-1.8zM165.16,-0.9h1.8v1.8h-1.8zM169.64,-0.9h1.8v1.8h-1.8zM174.13,-0.9h1.8v1.8h-1.8zM178.62,-0.9h1.8v1.8h-1.8zM187.60,-0.9h1.8v1.8h-1.8zM192.08,-0.9h1.8v1.8h-1.8zM196.57,-0.9h1.8v1.8h-1.8zM201.06,-0.9h1.8v1.8h-1.8zM205.55,-0.9h1.8v1.8h-1.8zM214.52,-0.9h1.8v1.8h-1.8zM219.01,-0.9h1.8v1.8h-1.8zM223.50,-0.9h1.8v1.8h-1.8zM227.99,-0.9h1.8v1.8h-1.8zM232.48,-0.9h1.8v1.8h-1.8zM241.45,-0.9h1.8v1.8h-1.8zM245.94,-0.9h1.8v1.8h-1.8zM250.43,-0.9h1.8v1.8h-1.8zM254.92,-0.9h1.8v1.8h-1.8zM259.40,-0.9h1.8v1.8h-1.8z" fill="#3b3b3b"/></g></defs>
<g id="bbTop">
<rect x="468.5" y="409.5" width="287.4" height="90.3" fill="#dcdcdc"/>
<rect x="468.5" y="452.1" width="287.4" height="5.6" fill="#d2d1d1"/>
<rect x="468.5" y="453.1" width="287.4" height="3.6" fill="#c8c6c6"/>
<rect x="467.6" y="409.1" width="289.2" height="1.3" fill="#cfcfe8"/>
<rect x="467.6" y="419.8" width="289.2" height="1" fill="#e2a898"/>
<rect x="467.6" y="489.2" width="289.2" height="1.5" fill="#b9b9dc"/>
<rect x="467.6" y="499.4" width="289.2" height="0.9" fill="#ecc5bb"/>
<use href="#bbRow" x="472.95" y="430.60"/>
<use href="#bbRow" x="472.95" y="462.00"/>
<use href="#bbRow" x="472.95" y="435.09"/>
<use href="#bbRow" x="472.95" y="466.49"/>
<use href="#bbRow" x="472.95" y="439.58"/>
<use href="#bbRow" x="472.95" y="470.98"/>
<use href="#bbRow" x="472.95" y="444.06"/>
<use href="#bbRow" x="472.95" y="475.46"/>
<use href="#bbRow" x="472.95" y="448.55"/>
<use href="#bbRow" x="472.95" y="479.95"/>
<use href="#bbRail" x="481.80" y="412.60"/>
<use href="#bbRail" x="481.80" y="417.00"/>
<use href="#bbRail" x="481.80" y="492.60"/>
<use href="#bbRail" x="481.80" y="497.00"/>
<path d="M472.3,424.7h1.2v1.6h-1.2zM472.3,483.7h1.2v1.6h-1.2zM494.8,424.7h1.2v1.6h-1.2zM494.8,483.7h1.2v1.6h-1.2zM517.2,424.7h1.2v1.6h-1.2zM517.2,483.7h1.2v1.6h-1.2zM539.7,424.7h1.2v1.6h-1.2zM539.7,483.7h1.2v1.6h-1.2zM562.1,424.7h1.2v1.6h-1.2zM562.1,483.7h1.2v1.6h-1.2zM584.5,424.7h1.2v1.6h-1.2zM584.5,483.7h1.2v1.6h-1.2zM607.0,424.7h1.2v1.6h-1.2zM607.0,483.7h1.2v1.6h-1.2zM629.4,424.7h1.2v1.6h-1.2zM629.4,483.7h1.2v1.6h-1.2zM651.9,424.7h1.2v1.6h-1.2zM651.9,483.7h1.2v1.6h-1.2zM674.3,424.7h1.2v1.6h-1.2zM674.3,483.7h1.2v1.6h-1.2zM696.8,424.7h1.2v1.6h-1.2zM696.8,483.7h1.2v1.6h-1.2zM719.2,424.7h1.2v1.6h-1.2zM719.2,483.7h1.2v1.6h-1.2zM741.6,424.7h1.2v1.6h-1.2zM741.6,483.7h1.2v1.6h-1.2z" fill="#cfcfcf"/>
</g>
<g id="bbBottom">
<rect x="468.5" y="740.2" width="287.4" height="90.3" fill="#dcdcdc"/>
<rect x="468.5" y="782.8" width="287.4" height="5.6" fill="#d2d1d1"/>
<rect x="468.5" y="783.8" width="287.4" height="3.6" fill="#c8c6c6"/>
<rect x="467.6" y="739.8" width="289.2" height="1.3" fill="#cfcfe8"/>
<rect x="467.6" y="750.5" width="289.2" height="1" fill="#e2a898"/>
<rect x="467.6" y="819.9" width="289.2" height="1.5" fill="#b9b9dc"/>
<rect x="467.6" y="830.1" width="289.2" height="0.9" fill="#ecc5bb"/>
<use href="#bbRow" x="472.95" y="761.30"/>
<use href="#bbRow" x="472.95" y="792.70"/>
<use href="#bbRow" x="472.95" y="765.79"/>
<use href="#bbRow" x="472.95" y="797.19"/>
<use href="#bbRow" x="472.95" y="770.28"/>
<use href="#bbRow" x="472.95" y="801.68"/>
<use href="#bbRow" x="472.95" y="774.76"/>
<use href="#bbRow" x="472.95" y="806.16"/>
<use href="#bbRow" x="472.95" y="779.25"/>
<use href="#bbRow" x="472.95" y="810.65"/>
<use href="#bbRail" x="481.80" y="743.30"/>
<use href="#bbRail" x="481.80" y="747.70"/>
<use href="#bbRail" x="481.80" y="823.30"/>
<use href="#bbRail" x="481.80" y="827.70"/>
<path d="M472.3,755.4h1.2v1.6h-1.2zM472.3,814.4h1.2v1.6h-1.2zM494.8,755.4h1.2v1.6h-1.2zM494.8,814.4h1.2v1.6h-1.2zM517.2,755.4h1.2v1.6h-1.2zM517.2,814.4h1.2v1.6h-1.2zM539.7,755.4h1.2v1.6h-1.2zM539.7,814.4h1.2v1.6h-1.2zM562.1,755.4h1.2v1.6h-1.2zM562.1,814.4h1.2v1.6h-1.2zM584.5,755.4h1.2v1.6h-1.2zM584.5,814.4h1.2v1.6h-1.2zM607.0,755.4h1.2v1.6h-1.2zM607.0,814.4h1.2v1.6h-1.2zM629.4,755.4h1.2v1.6h-1.2zM629.4,814.4h1.2v1.6h-1.2zM651.9,755.4h1.2v1.6h-1.2zM651.9,814.4h1.2v1.6h-1.2zM674.3,755.4h1.2v1.6h-1.2zM674.3,814.4h1.2v1.6h-1.2zM696.8,755.4h1.2v1.6h-1.2zM696.8,814.4h1.2v1.6h-1.2zM719.2,755.4h1.2v1.6h-1.2zM719.2,814.4h1.2v1.6h-1.2zM741.6,755.4h1.2v1.6h-1.2zM741.6,814.4h1.2v1.6h-1.2z" fill="#cfcfcf"/>
</g>
<!-- top board: highlighted pins -->
<path d="M575.33,429.73h1.75v1.75h-1.75zM575.33,434.23h1.75v1.75h-1.75zM575.33,438.62h1.75v1.75h-1.75zM575.33,443.12h1.75v1.75h-1.75zM575.33,447.62h1.75v1.75h-1.75zM593.12,429.73h1.75v1.75h-1.75zM593.12,434.23h1.75v1.75h-1.75zM593.12,438.62h1.75v1.75h-1.75zM593.12,443.12h1.75v1.75h-1.75zM593.12,447.62h1.75v1.75h-1.75z" fill="#3a8a28"/>
<path d="M490.12,461.12h1.75v1.75h-1.75zM490.12,465.62h1.75v1.75h-1.75zM490.12,470.12h1.75v1.75h-1.75zM490.12,474.62h1.75v1.75h-1.75zM490.12,479.12h1.75v1.75h-1.75zM503.73,461.12h1.75v1.75h-1.75zM503.73,465.62h1.75v1.75h-1.75zM503.73,470.12h1.75v1.75h-1.75zM503.73,474.62h1.75v1.75h-1.75zM503.73,479.12h1.75v1.75h-1.75zM516.83,461.12h1.75v1.75h-1.75zM516.83,465.62h1.75v1.75h-1.75zM516.83,470.12h1.75v1.75h-1.75zM516.83,474.62h1.75v1.75h-1.75zM516.83,479.12h1.75v1.75h-1.75zM525.83,461.12h1.75v1.75h-1.75zM525.83,465.62h1.75v1.75h-1.75zM525.83,470.12h1.75v1.75h-1.75zM525.83,474.62h1.75v1.75h-1.75zM525.83,479.12h1.75v1.75h-1.75z" fill="#3a8a28"/>
<path d="M629.12,461.12h1.75v1.75h-1.75zM629.12,465.62h1.75v1.75h-1.75zM629.12,470.12h1.75v1.75h-1.75zM629.12,474.62h1.75v1.75h-1.75zM629.12,479.12h1.75v1.75h-1.75zM633.62,461.12h1.75v1.75h-1.75zM633.62,465.62h1.75v1.75h-1.75zM633.62,470.12h1.75v1.75h-1.75zM633.62,474.62h1.75v1.75h-1.75zM633.62,479.12h1.75v1.75h-1.75zM638.12,461.12h1.75v1.75h-1.75zM638.12,465.62h1.75v1.75h-1.75zM638.12,470.12h1.75v1.75h-1.75zM638.12,474.62h1.75v1.75h-1.75zM638.12,479.12h1.75v1.75h-1.75z" fill="#3a8a28"/>
<path d="M655.92,461.12h1.75v1.75h-1.75zM655.92,465.62h1.75v1.75h-1.75zM655.92,470.12h1.75v1.75h-1.75zM655.92,474.62h1.75v1.75h-1.75z" fill="#3a8a28"/>
<g><path d="M576.2,435.1H594.0" stroke="#9aa59a" stroke-width="0.9"/><rect x="579.5" y="433.3" width="11.2" height="3.6" rx="1.2" fill="#e3c88f" stroke="#c9aa6c" stroke-width="0.3"/><rect x="581.5" y="433.3" width="1.1" height="3.6" fill="#c1272d"/><rect x="583.5" y="433.3" width="1.1" height="3.6" fill="#c1272d"/><rect x="585.5" y="433.3" width="1.1" height="3.6" fill="#8b4513"/><rect x="588.1" y="433.3" width="1.1" height="3.6" fill="#c9a227"/></g>
<g><path d="M639.0,466.5H656.8" stroke="#9aa59a" stroke-width="0.9"/><rect x="642.3" y="464.7" width="11.2" height="3.6" rx="1.2" fill="#e3c88f" stroke="#c9aa6c" stroke-width="0.3"/><rect x="644.3" y="464.7" width="1.1" height="3.6" fill="#c1272d"/><rect x="646.3" y="464.7" width="1.1" height="3.6" fill="#c1272d"/><rect x="648.3" y="464.7" width="1.1" height="3.6" fill="#8b4513"/><rect x="650.9" y="464.7" width="1.1" height="3.6" fill="#c9a227"/></g>
<g><path d="M634.5,480 L634.6,489 M639,480 L637.6,489 M630.2,480 L632,489" stroke="#8fb488" stroke-width="0.9" fill="none"/>
<path d="M631.2,488 H639 V496.5 C639,498 637.5,498.6 635.1,498.6 C632.7,498.6 631.2,498 631.2,496.5 Z" fill="#141414"/>
<path d="M636.4,490.8 L633.6,492.6 L636.4,494.4 Z M637,490.6 v4" fill="none" stroke="#e8e8e8" stroke-width="0.5"/></g>
<!-- light bulb -->
<defs><radialGradient id="bulbG" cx="0.58" cy="0.52" r="0.55"><stop offset="0" stop-color="#fffef6"/><stop offset="0.55" stop-color="#fefbe2"/><stop offset="0.82" stop-color="#fcf4bd"/><stop offset="0.96" stop-color="#f9ea9c"/><stop offset="1" stop-color="#f7e48e"/></radialGradient>
<linearGradient id="baseG" x1="0" x2="1"><stop offset="0" stop-color="#8a8a8a"/><stop offset="0.3" stop-color="#a9a9a9"/><stop offset="0.65" stop-color="#e2e2e2"/><stop offset="1" stop-color="#fdfdfd"/></linearGradient></defs>
<path d="M402.8,445 C402.6,452 402.6,458 403.6,467.5 L434.6,467.5 C435.6,458 435.6,452 435.4,445 Z" fill="#fbef9f"/>
<circle cx="419" cy="420.8" r="34.1" fill="url(#bulbG)"/>
<path d="M402,441 C402,436 404,434.2 408,434.2 L430,434.2 C434,434.2 436,436 436,441 L435.6,460 C430,463 408,463 402.6,460 Z" fill="#fbf1a8" opacity="0.6"/>
<path d="M410.6,434.4 L412.2,467 M427.6,434.4 L425.6,467" stroke="#9c9c9c" stroke-width="0.7" fill="none"/>
<rect x="410.4" y="433.4" width="17.4" height="2.6" rx="0.8" fill="#fdfbe6" stroke="#9c9c9c" stroke-width="0.5"/>
<path d="M412.00,433.8v1.8M413.55,433.8v1.8M415.10,433.8v1.8M416.65,433.8v1.8M418.20,433.8v1.8M419.75,433.8v1.8M421.30,433.8v1.8M422.85,433.8v1.8M424.40,433.8v1.8M425.95,433.8v1.8" stroke="#b5b5b5" stroke-width="0.4"/>
<g fill="#ffffff" opacity="0.95"><path d="M-6,-0.6 C-5,-2.6 4,-3.2 6,-2.4 L5.4,2.6 C3,2.2 -3,2.6 -5,3 Z" transform="translate(402,398.8) rotate(-38)"/><path d="M-7,-0.4 C-5,-2 5,-2.4 7,-1.8 L6,2.2 C3,1.8 -4,2 -6.4,2.4 Z" transform="translate(393.4,412.8) rotate(-63)"/></g>
<path d="M404,467.3 H430.2 L430.8,470 L429.2,471.6 L431.2,474.4 L429.4,476.6 L431.4,479.6 L429.4,482 L431,485 L428.8,487.6 L430,490.6 L427.6,492.6 L424.2,496.4 L423.6,499.4 H409.6 L408.4,496.4 L404,490 Z" fill="url(#baseG)"/>
<g stroke="#7d7d7d" stroke-width="1.5" opacity="0.55" fill="none"><path d="M404,471 L430.2,468.8"/><path d="M404,476 L430.6,473.6"/><path d="M404,481 L430.6,478.8"/><path d="M404,486 L430.2,484"/><path d="M404.6,490.6 L429.4,489"/></g>
<g stroke="#ffffff" stroke-width="1.2" opacity="0.7" fill="none"><path d="M412,473 L430.4,471.4"/><path d="M412,478 L430.8,476.4"/><path d="M412,483 L430.8,481.6"/><path d="M412,488 L430,486.8"/></g>
<path d="M409.4,497.4 L410,499.5 H423.6 L424,497.4 Z" fill="#5e5e5e"/>
<path d="M408,495.4 H425 L424.2,497.4 H409.2 Z" fill="#8a8a8a"/>
<!-- battery holder -->
<g>
<rect x="781" y="384" width="99.8" height="53.8" rx="1.2" fill="#1b1b1b"/>
<rect x="786.5" y="385.2" width="63.7" height="25" rx="2" fill="#303030"/>
<path d="M850,388 H872 L873.5,385.6 H875.5 L876.2,388 V408.5 C876.2,410 875.4,410.4 874,410.4 H850 Z" fill="#c4935b"/>
<rect x="812" y="411.6" width="62.2" height="25" rx="2" fill="#303030"/>
<path d="M812,434 H790 L788.5,436.4 H786.6 L785.9,434 V413.6 C785.9,412.2 786.6,411.8 788,411.8 H812 Z" fill="#c4935b"/>
<rect x="789.4" y="401" width="83.8" height="8" rx="1.2" fill="#ffffff" opacity="0.27"/>
<rect x="789" y="428" width="83" height="7" rx="1.2" fill="#ffffff" opacity="0.27"/>
<rect x="877.4" y="393.5" width="1.8" height="7" fill="#9aa0a3"/><rect x="783" y="421" width="1.8" height="7" fill="#9aa0a3"/>
<rect x="783.2" y="389" width="1.2" height="14" rx="0.6" fill="#4a4a4a"/><rect x="877.4" y="416" width="1.2" height="14" rx="0.6" fill="#4a4a4a"/>
<text x="802.8" y="398.9" font-size="8.7" font-weight="bold" fill="#ededed" textLength="41.4" lengthAdjust="spacingAndGlyphs">AA Battery</text>
<text transform="translate(858.7,424) rotate(180)" x="0" y="0" font-size="8.7" font-weight="bold" fill="#ededed" textLength="41.4" lengthAdjust="spacingAndGlyphs">AA Battery</text>
</g>
<!-- slide switch -->
<rect x="491.1" y="560.2" width="22.3" height="13" fill="#1e2424"/>
<rect x="491.1" y="562.6" width="22.3" height="1.1" fill="#333a3a"/><rect x="491.1" y="566.2" width="22.3" height="1.2" fill="#3a4040"/><rect x="491.1" y="569.8" width="22.3" height="1.1" fill="#333a3a"/>
<rect x="499.8" y="563" width="5.2" height="7.7" fill="#c8411f"/><path d="M499.8,565.4h5.2M499.8,568h5.2" stroke="#b33a1c" stroke-width="0.5"/>
<rect x="491.6" y="564" width="1.6" height="1.6" fill="#a6482c"/><rect x="491.6" y="567.6" width="1.6" height="1.8" fill="#b5552f"/>
<!-- arduino uno -->
<g id="arduino">
<path d="M585.2,565.3 H697.6 L699.5,566.9 V585.7 L703.6,590 V648.2 L699.5,651.3 V656.6 L698.4,657.8 H584 V566.4 Z" fill="#44789b"/>
<rect x="573.1" y="581.9" width="26.9" height="18.8" fill="#b4b4b4"/><rect x="573.1" y="581.9" width="3.6" height="18.8" fill="#9c9c9c"/><rect x="584" y="580.6" width="1.4" height="1.6" fill="#9a9a9a"/><rect x="584" y="600.6" width="1.4" height="1.6" fill="#9a9a9a"/>
<rect x="581" y="637" width="22.8" height="15" fill="#1c1c1c"/><rect x="581" y="637" width="22.8" height="2.2" fill="#2e2e2e"/><rect x="597" y="639" width="6.8" height="12" fill="#262626"/>
<rect x="586.5" y="566" width="15" height="10" rx="1.2" fill="#e6e6e6"/><rect x="586" y="568" width="1.4" height="2" fill="#cfcfcf"/><rect x="586" y="572" width="1.4" height="2" fill="#cfcfcf"/><circle cx="594" cy="571" r="3.5" fill="#9e1f1f"/><circle cx="594" cy="571" r="2.4" fill="#b52a2a"/>
<text x="590.2" y="579" font-size="2.2" fill="#dfe9ef">RESET</text>
<circle cx="610.3" cy="569" r="2.8" fill="#fbfbfb"/>
<circle cx="699.9" cy="595.3" r="2.8" fill="#fbfbfb"/>
<circle cx="699.9" cy="644.8" r="2.8" fill="#fbfbfb"/>
<circle cx="608.2" cy="653.8" r="2.8" fill="#fbfbfb"/>
<rect x="615" y="567.3" width="45.1" height="3.7" fill="#1f1f1f"/><path d="M616.30,568.4h1.7v1.6h-1.7zM620.81,568.4h1.7v1.6h-1.7zM625.32,568.4h1.7v1.6h-1.7zM629.83,568.4h1.7v1.6h-1.7zM634.34,568.4h1.7v1.6h-1.7zM638.85,568.4h1.7v1.6h-1.7zM643.36,568.4h1.7v1.6h-1.7zM647.87,568.4h1.7v1.6h-1.7zM652.38,568.4h1.7v1.6h-1.7zM656.89,568.4h1.7v1.6h-1.7z" fill="#3d3d3d"/>
<rect x="662.3" y="567.3" width="35.3" height="3.7" fill="#1f1f1f"/><path d="M663.60,568.4h1.7v1.6h-1.7zM668.01,568.4h1.7v1.6h-1.7zM672.42,568.4h1.7v1.6h-1.7zM676.84,568.4h1.7v1.6h-1.7zM681.25,568.4h1.7v1.6h-1.7zM685.66,568.4h1.7v1.6h-1.7zM690.07,568.4h1.7v1.6h-1.7zM694.49,568.4h1.7v1.6h-1.7z" fill="#3d3d3d"/>
<rect x="630.7" y="652" width="35.4" height="3.7" fill="#1f1f1f"/><path d="M632.00,653.1h1.7v1.6h-1.7zM636.42,653.1h1.7v1.6h-1.7zM640.85,653.1h1.7v1.6h-1.7zM645.27,653.1h1.7v1.6h-1.7zM649.70,653.1h1.7v1.6h-1.7zM654.12,653.1h1.7v1.6h-1.7zM658.55,653.1h1.7v1.6h-1.7zM662.98,653.1h1.7v1.6h-1.7z" fill="#3d3d3d"/>
<rect x="671.1" y="652" width="26.5" height="3.7" fill="#1f1f1f"/><path d="M672.40,653.1h1.7v1.6h-1.7zM676.82,653.1h1.7v1.6h-1.7zM681.23,653.1h1.7v1.6h-1.7zM685.65,653.1h1.7v1.6h-1.7zM690.07,653.1h1.7v1.6h-1.7zM694.48,653.1h1.7v1.6h-1.7z" fill="#3d3d3d"/>
<rect x="609.4" y="573.1" width="13.2" height="8.2" fill="#262626"/>
<path d="M611.0,574.6h1.6v1.6h-1.6zM611.0,578.2h1.6v1.6h-1.6zM615.2,574.6h1.6v1.6h-1.6zM615.2,578.2h1.6v1.6h-1.6zM619.4,574.6h1.6v1.6h-1.6zM619.4,578.2h1.6v1.6h-1.6z" fill="#b59b4e"/>
<rect x="693.9" y="602.3" width="8.1" height="12.5" fill="#262626"/>
<path d="M695.2,603.8h1.6v1.6h-1.6zM695.2,607.8h1.6v1.6h-1.6zM695.2,611.8h1.6v1.6h-1.6zM698.8,603.8h1.6v1.6h-1.6zM698.8,607.8h1.6v1.6h-1.6zM698.8,611.8h1.6v1.6h-1.6z" fill="#b59b4e"/>
<text x="610.8" y="584.6" font-size="2.2" fill="#dfe9ef">ICSP2</text>
<text transform="translate(692.6,613) rotate(-90)" font-size="2.2" fill="#dfe9ef">ICSP</text>
<rect x="614.4" y="592.9" width="8.8" height="8.1" fill="#303030"/>
<rect x="632.6" y="624.4" width="65.3" height="9.8" fill="#2f2f2f"/>
<rect x="594" y="621.9" width="6" height="11.3" fill="#2e2e2e"/><rect x="590.6" y="624" width="3.4" height="6.6" fill="#a9aeb2"/><rect x="600" y="622.8" width="2.6" height="1.6" fill="#c9cdd0"/><rect x="600" y="626.6" width="2.6" height="1.6" fill="#c9cdd0"/><rect x="600" y="630.4" width="2.6" height="1.6" fill="#c9cdd0"/>
<circle cx="616" cy="641.8" r="5.7" fill="#9fa4a8"/><circle cx="616" cy="641.2" r="5.3" fill="#f4f4f4"/><path d="M611.4,644.6 A5.6,5.6 0 0 0 620.6,644.6 Z" fill="#4a4a4a" opacity="0.55"/>
<circle cx="629.4" cy="641.8" r="5.7" fill="#9fa4a8"/><circle cx="629.4" cy="641.2" r="5.3" fill="#f4f4f4"/><path d="M624.8,644.6 A5.6,5.6 0 0 0 634.0,644.6 Z" fill="#4a4a4a" opacity="0.55"/>
<rect x="632.6" y="585.1" width="2.8" height="1.8" fill="#f1efd0"/><text x="628.2" y="586.9" font-size="2.2" fill="#dfe9ef">L</text>
<rect x="632.6" y="592.4" width="2.8" height="1.8" fill="#f1efd0"/><text x="628.2" y="594.1999999999999" font-size="2.2" fill="#dfe9ef">TX</text>
<rect x="632.6" y="596.8" width="2.8" height="1.8" fill="#f1efd0"/><text x="628.2" y="598.5999999999999" font-size="2.2" fill="#dfe9ef">RX</text>
<rect x="686.4" y="592.9" width="3.6" height="1.8" fill="#f1efd0"/><text x="691" y="594.8" font-size="2.2" fill="#dfe9ef">ON</text>
<path d="M630,582.8 H696.4" stroke="#d7e3ea" stroke-width="0.6"/>
<text x="662" y="581.4" font-size="2.3" fill="#dfe9ef" letter-spacing="0.25">DIGITAL (PWM~)</text>
<path d="M643.5,642.6 H666 M676,642.6 H697.4" stroke="#d7e3ea" stroke-width="0.5"/>
<text x="657.6" y="641.6" font-size="2.2" fill="#dfe9ef">POWER</text><text x="681.4" y="641.6" font-size="2.2" fill="#dfe9ef">ANALOG IN</text>
<path d="M618.0,572.6v3M622.5,572.6v3M627.0,572.6v3M631.5,572.6v3M636.0,572.6v3M640.5,572.6v3M645.0,572.6v3M649.5,572.6v3M654.0,572.6v3M664.6,572.6v3M669.0,572.6v3M673.4,572.6v3M677.8,572.6v3M682.2,572.6v3M686.6,572.6v3M691.0,572.6v3M695.4,572.6v3" stroke="#c9d8e1" stroke-width="0.6" opacity="0.45"/>
<path d="M633.0,645.6v4M637.4,645.6v4M641.8,645.6v4M646.2,645.6v4M650.6,645.6v4M655.0,645.6v4M659.4,645.6v4M663.8,645.6v4M673.4,646.6v3M677.8,646.6v3M682.2,646.6v3M686.6,646.6v3M691.0,646.6v3M695.4,646.6v3" stroke="#c9d8e1" stroke-width="0.6" opacity="0.45"/>
<path d="M692,575v8 M696.2,575v8" stroke="#e8f0f4" stroke-width="0.6"/>
<path d="M650.7,589 C648.6,585.4 646.6,584.6 644.8,584.6 C642.2,584.6 640.6,586.6 640.6,589 C640.6,591.4 642.2,593.4 644.8,593.4 C646.6,593.4 648.6,592.6 650.7,589 C652.8,585.4 654.8,584.6 656.6,584.6 C659.2,584.6 660.8,586.6 660.8,589 C660.8,591.4 659.2,593.4 656.6,593.4 C654.8,593.4 652.8,592.6 650.7,589 Z" fill="none" stroke="#ffffff" stroke-width="1.9"/>
<path d="M643.2,589h3 M655,589h3.2 M656.6,587.4v3.2" stroke="#ffffff" stroke-width="0.8"/>
<rect x="663.4" y="585" width="20.4" height="8.3" rx="4.1" fill="none" stroke="#ffffff" stroke-width="0.6"/>
<text x="666" y="592" font-size="7.2" fill="#ffffff" textLength="15.2" lengthAdjust="spacingAndGlyphs">UNO</text>
<text x="641.6" y="598.2" font-size="3.6" fill="#e6eef2" letter-spacing="0.3" font-weight="bold">Arduino</text><text x="660.2" y="596.4" font-size="1.8" fill="#e6eef2">TM</text>
</g>
<!-- bottom board parts -->
<path d="M489.90,822.52h1.75v1.75h-1.75zM494.39,822.52h1.75v1.75h-1.75zM498.88,822.52h1.75v1.75h-1.75zM507.85,822.52h1.75v1.75h-1.75zM512.34,822.52h1.75v1.75h-1.75zM516.83,822.52h1.75v1.75h-1.75zM521.32,822.52h1.75v1.75h-1.75zM525.81,822.52h1.75v1.75h-1.75zM534.78,822.52h1.75v1.75h-1.75zM539.27,822.52h1.75v1.75h-1.75zM543.76,822.52h1.75v1.75h-1.75zM548.25,822.52h1.75v1.75h-1.75zM552.73,822.52h1.75v1.75h-1.75zM561.71,822.52h1.75v1.75h-1.75zM566.20,822.52h1.75v1.75h-1.75zM570.69,822.52h1.75v1.75h-1.75zM575.17,822.52h1.75v1.75h-1.75zM579.66,822.52h1.75v1.75h-1.75zM588.64,822.52h1.75v1.75h-1.75zM593.12,822.52h1.75v1.75h-1.75zM597.61,822.52h1.75v1.75h-1.75zM602.10,822.52h1.75v1.75h-1.75zM606.59,822.52h1.75v1.75h-1.75zM615.57,822.52h1.75v1.75h-1.75zM620.05,822.52h1.75v1.75h-1.75zM624.54,822.52h1.75v1.75h-1.75zM629.03,822.52h1.75v1.75h-1.75zM633.52,822.52h1.75v1.75h-1.75zM642.49,822.52h1.75v1.75h-1.75zM646.98,822.52h1.75v1.75h-1.75zM651.47,822.52h1.75v1.75h-1.75zM655.96,822.52h1.75v1.75h-1.75zM660.45,822.52h1.75v1.75h-1.75zM669.42,822.52h1.75v1.75h-1.75zM673.91,822.52h1.75v1.75h-1.75zM678.40,822.52h1.75v1.75h-1.75zM682.88,822.52h1.75v1.75h-1.75zM687.37,822.52h1.75v1.75h-1.75zM696.35,822.52h1.75v1.75h-1.75zM700.84,822.52h1.75v1.75h-1.75zM705.33,822.52h1.75v1.75h-1.75zM709.81,822.52h1.75v1.75h-1.75zM714.30,822.52h1.75v1.75h-1.75zM723.28,822.52h1.75v1.75h-1.75zM727.77,822.52h1.75v1.75h-1.75zM732.25,822.52h1.75v1.75h-1.75zM736.74,822.52h1.75v1.75h-1.75zM741.23,822.52h1.75v1.75h-1.75z" fill="#3a8a28"/>
<path d="M507.85,826.92h1.75v1.75h-1.75zM512.34,826.92h1.75v1.75h-1.75zM516.83,826.92h1.75v1.75h-1.75zM521.32,826.92h1.75v1.75h-1.75zM525.81,826.92h1.75v1.75h-1.75zM534.78,826.92h1.75v1.75h-1.75zM539.27,826.92h1.75v1.75h-1.75zM543.76,826.92h1.75v1.75h-1.75zM548.25,826.92h1.75v1.75h-1.75zM552.73,826.92h1.75v1.75h-1.75zM561.71,826.92h1.75v1.75h-1.75zM566.20,826.92h1.75v1.75h-1.75zM570.69,826.92h1.75v1.75h-1.75zM575.17,826.92h1.75v1.75h-1.75zM579.66,826.92h1.75v1.75h-1.75zM588.64,826.92h1.75v1.75h-1.75zM593.12,826.92h1.75v1.75h-1.75zM597.61,826.92h1.75v1.75h-1.75zM602.10,826.92h1.75v1.75h-1.75zM606.59,826.92h1.75v1.75h-1.75zM615.57,826.92h1.75v1.75h-1.75zM620.05,826.92h1.75v1.75h-1.75zM624.54,826.92h1.75v1.75h-1.75zM629.03,826.92h1.75v1.75h-1.75zM633.52,826.92h1.75v1.75h-1.75zM642.49,826.92h1.75v1.75h-1.75zM646.98,826.92h1.75v1.75h-1.75zM651.47,826.92h1.75v1.75h-1.75zM655.96,826.92h1.75v1.75h-1.75zM660.45,826.92h1.75v1.75h-1.75zM669.42,826.92h1.75v1.75h-1.75zM673.91,826.92h1.75v1.75h-1.75zM678.40,826.92h1.75v1.75h-1.75zM682.88,826.92h1.75v1.75h-1.75zM687.37,826.92h1.75v1.75h-1.75zM696.35,826.92h1.75v1.75h-1.75zM700.84,826.92h1.75v1.75h-1.75zM705.33,826.92h1.75v1.75h-1.75zM709.81,826.92h1.75v1.75h-1.75zM714.30,826.92h1.75v1.75h-1.75zM723.28,826.92h1.75v1.75h-1.75zM727.77,826.92h1.75v1.75h-1.75zM732.25,826.92h1.75v1.75h-1.75zM736.74,826.92h1.75v1.75h-1.75zM741.23,826.92h1.75v1.75h-1.75z" fill="#3a8a28"/>
<path d="M481.12,822.52h1.75v1.75h-1.75z" fill="#2f9c8c"/>
<path d="M516.83,760.52h1.75v1.75h-1.75zM516.83,765.02h1.75v1.75h-1.75zM516.83,769.52h1.75v1.75h-1.75zM516.83,774.02h1.75v1.75h-1.75zM516.83,778.52h1.75v1.75h-1.75z" fill="#3a8a28"/>
<path d="M566.02,791.73h1.75v1.75h-1.75zM566.02,796.12h1.75v1.75h-1.75zM566.02,800.52h1.75v1.75h-1.75zM566.02,804.92h1.75v1.75h-1.75zM566.02,809.33h1.75v1.75h-1.75zM570.52,791.73h1.75v1.75h-1.75zM570.52,796.12h1.75v1.75h-1.75zM570.52,800.52h1.75v1.75h-1.75zM570.52,804.92h1.75v1.75h-1.75zM570.52,809.33h1.75v1.75h-1.75z" fill="#3a8a28"/>
<path d="M588.62,791.73h1.75v1.75h-1.75zM588.62,796.12h1.75v1.75h-1.75zM588.62,800.52h1.75v1.75h-1.75zM588.62,804.92h1.75v1.75h-1.75zM588.62,809.33h1.75v1.75h-1.75z" fill="#3a8a28"/>
<path d="M566.9,801.4V818 M571.4,801.4V818" stroke="#a3a3a3" stroke-width="1.7" fill="none"/>
<g><path d="M571.4,805.8H589.5" stroke="#9aa59a" stroke-width="0.9"/><rect x="574.9" y="804.0" width="11.2" height="3.6" rx="1.2" fill="#e3c88f" stroke="#c9aa6c" stroke-width="0.3"/><rect x="576.9" y="804.0" width="1.1" height="3.6" fill="#c1272d"/><rect x="578.9" y="804.0" width="1.1" height="3.6" fill="#c1272d"/><rect x="580.9" y="804.0" width="1.1" height="3.6" fill="#8b4513"/><rect x="583.5" y="804.0" width="1.1" height="3.6" fill="#c9a227"/></g>
<path d="M589.5,810.4 L589.5,823.4" fill="none" stroke="#7f388e" stroke-width="1.9" stroke-linecap="round" stroke-linejoin="round" />
<path d="M602.02,791.73h1.75v1.75h-1.75zM602.02,796.12h1.75v1.75h-1.75zM602.02,800.52h1.75v1.75h-1.75zM602.02,804.92h1.75v1.75h-1.75zM602.02,809.33h1.75v1.75h-1.75zM606.52,791.73h1.75v1.75h-1.75zM606.52,796.12h1.75v1.75h-1.75zM606.52,800.52h1.75v1.75h-1.75zM606.52,804.92h1.75v1.75h-1.75zM606.52,809.33h1.75v1.75h-1.75z" fill="#3a8a28"/>
<path d="M624.62,791.73h1.75v1.75h-1.75zM624.62,796.12h1.75v1.75h-1.75zM624.62,800.52h1.75v1.75h-1.75zM624.62,804.92h1.75v1.75h-1.75zM624.62,809.33h1.75v1.75h-1.75z" fill="#3a8a28"/>
<path d="M602.9,801.4V818 M607.4,801.4V818" stroke="#a3a3a3" stroke-width="1.7" fill="none"/>
<g><path d="M607.4,805.8H625.5" stroke="#9aa59a" stroke-width="0.9"/><rect x="610.9" y="804.0" width="11.2" height="3.6" rx="1.2" fill="#e3c88f" stroke="#c9aa6c" stroke-width="0.3"/><rect x="612.9" y="804.0" width="1.1" height="3.6" fill="#c1272d"/><rect x="614.9" y="804.0" width="1.1" height="3.6" fill="#c1272d"/><rect x="616.9" y="804.0" width="1.1" height="3.6" fill="#8b4513"/><rect x="619.5" y="804.0" width="1.1" height="3.6" fill="#c9a227"/></g>
<path d="M625.5,810.4 L625.5,823.4" fill="none" stroke="#7f388e" stroke-width="1.9" stroke-linecap="round" stroke-linejoin="round" />
<path d="M637.92,791.73h1.75v1.75h-1.75zM637.92,796.12h1.75v1.75h-1.75zM637.92,800.52h1.75v1.75h-1.75zM637.92,804.92h1.75v1.75h-1.75zM637.92,809.33h1.75v1.75h-1.75zM642.42,791.73h1.75v1.75h-1.75zM642.42,796.12h1.75v1.75h-1.75zM642.42,800.52h1.75v1.75h-1.75zM642.42,804.92h1.75v1.75h-1.75zM642.42,809.33h1.75v1.75h-1.75z" fill="#3a8a28"/>
<path d="M660.52,791.73h1.75v1.75h-1.75zM660.52,796.12h1.75v1.75h-1.75zM660.52,800.52h1.75v1.75h-1.75zM660.52,804.92h1.75v1.75h-1.75zM660.52,809.33h1.75v1.75h-1.75z" fill="#3a8a28"/>
<path d="M638.8,801.4V818 M643.3,801.4V818" stroke="#a3a3a3" stroke-width="1.7" fill="none"/>
<g><path d="M643.3,805.8H661.4" stroke="#9aa59a" stroke-width="0.9"/><rect x="646.7" y="804.0" width="11.2" height="3.6" rx="1.2" fill="#e3c88f" stroke="#c9aa6c" stroke-width="0.3"/><rect x="648.7" y="804.0" width="1.1" height="3.6" fill="#c1272d"/><rect x="650.7" y="804.0" width="1.1" height="3.6" fill="#c1272d"/><rect x="652.7" y="804.0" width="1.1" height="3.6" fill="#8b4513"/><rect x="655.3" y="804.0" width="1.1" height="3.6" fill="#c9a227"/></g>
<path d="M661.4,810.4 L661.4,823.4" fill="none" stroke="#7f388e" stroke-width="1.9" stroke-linecap="round" stroke-linejoin="round" />
<path d="M678.52,791.73h1.75v1.75h-1.75zM678.52,796.12h1.75v1.75h-1.75zM678.52,800.52h1.75v1.75h-1.75zM678.52,804.92h1.75v1.75h-1.75zM678.52,809.33h1.75v1.75h-1.75zM683.02,791.73h1.75v1.75h-1.75zM683.02,796.12h1.75v1.75h-1.75zM683.02,800.52h1.75v1.75h-1.75zM683.02,804.92h1.75v1.75h-1.75zM683.02,809.33h1.75v1.75h-1.75z" fill="#3a8a28"/>
<path d="M701.12,791.73h1.75v1.75h-1.75zM701.12,796.12h1.75v1.75h-1.75zM701.12,800.52h1.75v1.75h-1.75zM701.12,804.92h1.75v1.75h-1.75zM701.12,809.33h1.75v1.75h-1.75z" fill="#3a8a28"/>
<path d="M679.4,801.4V818 M683.9,801.4V818" stroke="#a3a3a3" stroke-width="1.7" fill="none"/>
<g><path d="M683.9,805.8H702.0" stroke="#9aa59a" stroke-width="0.9"/><rect x="687.4" y="804.0" width="11.2" height="3.6" rx="1.2" fill="#e3c88f" stroke="#c9aa6c" stroke-width="0.3"/><rect x="689.4" y="804.0" width="1.1" height="3.6" fill="#c1272d"/><rect x="691.4" y="804.0" width="1.1" height="3.6" fill="#c1272d"/><rect x="693.4" y="804.0" width="1.1" height="3.6" fill="#8b4513"/><rect x="696.0" y="804.0" width="1.1" height="3.6" fill="#c9a227"/></g>
<path d="M702.0,810.4 L702.0,823.4" fill="none" stroke="#7f388e" stroke-width="1.9" stroke-linecap="round" stroke-linejoin="round" />
<path d="M718.92,791.73h1.75v1.75h-1.75zM718.92,796.12h1.75v1.75h-1.75zM718.92,800.52h1.75v1.75h-1.75zM718.92,804.92h1.75v1.75h-1.75zM718.92,809.33h1.75v1.75h-1.75zM723.42,791.73h1.75v1.75h-1.75zM723.42,796.12h1.75v1.75h-1.75zM723.42,800.52h1.75v1.75h-1.75zM723.42,804.92h1.75v1.75h-1.75zM723.42,809.33h1.75v1.75h-1.75z" fill="#3a8a28"/>
<path d="M741.52,791.73h1.75v1.75h-1.75zM741.52,796.12h1.75v1.75h-1.75zM741.52,800.52h1.75v1.75h-1.75zM741.52,804.92h1.75v1.75h-1.75zM741.52,809.33h1.75v1.75h-1.75z" fill="#3a8a28"/>
<path d="M719.8,801.4V818 M724.3,801.4V818" stroke="#a3a3a3" stroke-width="1.7" fill="none"/>
<g><path d="M724.3,805.8H742.4" stroke="#9aa59a" stroke-width="0.9"/><rect x="727.7" y="804.0" width="11.2" height="3.6" rx="1.2" fill="#e3c88f" stroke="#c9aa6c" stroke-width="0.3"/><rect x="729.7" y="804.0" width="1.1" height="3.6" fill="#c1272d"/><rect x="731.7" y="804.0" width="1.1" height="3.6" fill="#c1272d"/><rect x="733.7" y="804.0" width="1.1" height="3.6" fill="#8b4513"/><rect x="736.3" y="804.0" width="1.1" height="3.6" fill="#c9a227"/></g>
<path d="M742.4,810.4 L742.4,823.4" fill="none" stroke="#7f388e" stroke-width="1.9" stroke-linecap="round" stroke-linejoin="round" />
<defs><radialGradient id="ledG" cx="0.45" cy="0.4" r="0.6"><stop offset="0" stop-color="#ffffff"/><stop offset="0.75" stop-color="#fafafa"/><stop offset="1" stop-color="#ececec"/></radialGradient></defs>
<g><circle cx="567.3" cy="823.8" r="5.6" fill="#f3f3f3" opacity="0.86"/><path d="M568.9,818.2 C570.3,817.4 573.3,818.4 574.6999999999999,817.4 C575.5,816.8 576.9,816.6 577.9,817.4 C579.0999999999999,818.4 579.5,821 579.5,824 L579.3,831.6 L568.5,831.6 C570.6999999999999,829 571.9,826 571.6999999999999,823 C571.5,820.6 570.5,819.2 568.9,818.2 Z" fill="#fdfdfd"/><path d="M562.0999999999999,826 L562.0999999999999,831.6 L568.9,831.6 C566.3,831 563.6999999999999,829 562.0999999999999,826 Z" fill="#fdfdfd"/><path d="M568.5,831.4 L573.9,827.6 L574.0999999999999,831.4 Z" fill="#b9b9b9"/><path d="M569.5,826.8 l3,-2.2 l0.6,2.4 z" fill="#d4d4d4"/></g>
<g><circle cx="603.3" cy="823.8" r="5.6" fill="#f3f3f3" opacity="0.86"/><path d="M604.9,818.2 C606.3,817.4 609.3,818.4 610.6999999999999,817.4 C611.5,816.8 612.9,816.6 613.9,817.4 C615.0999999999999,818.4 615.5,821 615.5,824 L615.3,831.6 L604.5,831.6 C606.6999999999999,829 607.9,826 607.6999999999999,823 C607.5,820.6 606.5,819.2 604.9,818.2 Z" fill="#fdfdfd"/><path d="M598.0999999999999,826 L598.0999999999999,831.6 L604.9,831.6 C602.3,831 599.6999999999999,829 598.0999999999999,826 Z" fill="#fdfdfd"/><path d="M604.5,831.4 L609.9,827.6 L610.0999999999999,831.4 Z" fill="#b9b9b9"/><path d="M605.5,826.8 l3,-2.2 l0.6,2.4 z" fill="#d4d4d4"/></g>
<g><circle cx="639.1999999999999" cy="823.8" r="5.6" fill="#f3f3f3" opacity="0.86"/><path d="M640.8,818.2 C642.1999999999999,817.4 645.1999999999999,818.4 646.5999999999999,817.4 C647.4,816.8 648.8,816.6 649.8,817.4 C650.9999999999999,818.4 651.4,821 651.4,824 L651.1999999999999,831.6 L640.4,831.6 C642.5999999999999,829 643.8,826 643.5999999999999,823 C643.4,820.6 642.4,819.2 640.8,818.2 Z" fill="#fdfdfd"/><path d="M633.9999999999999,826 L633.9999999999999,831.6 L640.8,831.6 C638.1999999999999,831 635.5999999999999,829 633.9999999999999,826 Z" fill="#fdfdfd"/><path d="M640.4,831.4 L645.8,827.6 L645.9999999999999,831.4 Z" fill="#b9b9b9"/><path d="M641.4,826.8 l3,-2.2 l0.6,2.4 z" fill="#d4d4d4"/></g>
<g><circle cx="679.8" cy="823.8" r="5.6" fill="#f3f3f3" opacity="0.86"/><path d="M681.4,818.2 C682.8,817.4 685.8,818.4 687.1999999999999,817.4 C688.0,816.8 689.4,816.6 690.4,817.4 C691.5999999999999,818.4 692.0,821 692.0,824 L691.8,831.6 L681.0,831.6 C683.1999999999999,829 684.4,826 684.1999999999999,823 C684.0,820.6 683.0,819.2 681.4,818.2 Z" fill="#fdfdfd"/><path d="M674.5999999999999,826 L674.5999999999999,831.6 L681.4,831.6 C678.8,831 676.1999999999999,829 674.5999999999999,826 Z" fill="#fdfdfd"/><path d="M681.0,831.4 L686.4,827.6 L686.5999999999999,831.4 Z" fill="#b9b9b9"/><path d="M682.0,826.8 l3,-2.2 l0.6,2.4 z" fill="#d4d4d4"/></g>
<g><circle cx="720.1999999999999" cy="823.8" r="5.6" fill="#f3f3f3" opacity="0.86"/><path d="M721.8,818.2 C723.1999999999999,817.4 726.1999999999999,818.4 727.5999999999999,817.4 C728.4,816.8 729.8,816.6 730.8,817.4 C731.9999999999999,818.4 732.4,821 732.4,824 L732.1999999999999,831.6 L721.4,831.6 C723.5999999999999,829 724.8,826 724.5999999999999,823 C724.4,820.6 723.4,819.2 721.8,818.2 Z" fill="#fdfdfd"/><path d="M714.9999999999999,826 L714.9999999999999,831.6 L721.8,831.6 C719.1999999999999,831 716.5999999999999,829 714.9999999999999,826 Z" fill="#fdfdfd"/><path d="M721.4,831.4 L726.8,827.6 L726.9999999999999,831.4 Z" fill="#b9b9b9"/><path d="M722.4,826.8 l3,-2.2 l0.6,2.4 z" fill="#d4d4d4"/></g>
<g><path d="M513.5,776.4v1.2 M518,776.4v1.2 M522.4,776.4v1.2" stroke="#e0524a" stroke-width="1.2"/><rect x="511.1" y="777.2" width="13.9" height="15.3" fill="#4052a8"/><rect x="511.1" y="777.2" width="13.9" height="3.8" fill="#1b2050"/><circle cx="517.6" cy="787" r="2.7" fill="#2f2f38"/><path d="M515.4,787h4.4 M517.6,784.8v4.4" stroke="#d9d9d9" stroke-width="0.8"/></g>
<!-- sensor rings -->
<rect x="-30.4" y="-9.2" width="60.8" height="18.4" rx="9.2" transform="translate(350.1,774.4) rotate(-36.5)" fill="#fbfbfb" stroke="#c8c6c4" stroke-width="7.7"/>
<rect x="-30.25" y="-10.0" width="60.5" height="20.0" rx="10.0" transform="translate(428.5,764.5) rotate(22.7)" fill="#fbfbfb" stroke="#c8c6c4" stroke-width="7.8"/>
<g transform="translate(360.4,780.4) rotate(-36.9)"><rect x="-12.2" y="-4.8" width="24.4" height="9.6" rx="2.2" fill="#b8b8b8" stroke="#4f4f4f" stroke-width="0.7"/><path d="M-10.8,-4.4 H10.8 C11.6,-3.4 11.6,-2.2 10.8,-1.4 H-10.8 C-11.6,-2.2 -11.6,-3.4 -10.8,-4.4 Z" fill="#cbcbcb"/><path d="M-11.4,-1.3 H11.4" fill="none" stroke="#6a6a6a" stroke-width="0.5"/><path d="M-9.4,-1.2 C-10.4,0.6 -10.4,2.8 -9.6,4.6 M9.4,-1.2 C10.4,0.6 10.4,2.8 9.6,4.6" fill="none" stroke="#6a6a6a" stroke-width="0.5"/><text x="-7.8" y="3.2" font-size="4.1" font-weight="bold" font-style="italic" fill="#1e1e1e" textLength="15.8" lengthAdjust="spacingAndGlyphs">PrintSkin</text></g>
<g transform="translate(429.2,775.9) rotate(24.5)"><rect x="-12.2" y="-4.8" width="24.4" height="9.6" rx="2.2" fill="#b8b8b8" stroke="#4f4f4f" stroke-width="0.7"/><path d="M-10.8,-4.4 H10.8 C11.6,-3.4 11.6,-2.2 10.8,-1.4 H-10.8 C-11.6,-2.2 -11.6,-3.4 -10.8,-4.4 Z" fill="#cbcbcb"/><path d="M-11.4,-1.3 H11.4" fill="none" stroke="#6a6a6a" stroke-width="0.5"/><path d="M-9.4,-1.2 C-10.4,0.6 -10.4,2.8 -9.6,4.6 M9.4,-1.2 C10.4,0.6 10.4,2.8 9.6,4.6" fill="none" stroke="#6a6a6a" stroke-width="0.5"/><text x="-7.8" y="3.2" font-size="4.1" font-weight="bold" font-style="italic" fill="#1e1e1e" textLength="15.8" lengthAdjust="spacingAndGlyphs">PrintSkin</text></g>
<rect x="468.8" y="793.4" width="44" height="2.4" fill="#ffffff"/><rect x="468.8" y="825.8" width="12" height="1.4" fill="#fbf6ee"/>
<path d="M360.8,789.6 L360.8,828.1 L470,828.1" fill="none" stroke="#141414" stroke-width="1.5" stroke-linecap="butt" stroke-linejoin="round" />
<path d="M468.8,828.0 L508.8,828.0" fill="none" stroke="#1a1a1a" stroke-width="2.3" stroke-linecap="butt" stroke-linejoin="round" />
<path d="M428.2,784.6 L428.2,796.7 L470,796.7" fill="none" stroke="#141414" stroke-width="1.5" stroke-linecap="butt" stroke-linejoin="round" />
<path d="M468.8,796.7 L522,796.7" fill="none" stroke="#1a1a1a" stroke-width="2.3" stroke-linecap="butt" stroke-linejoin="round" />
<circle cx="522.2" cy="796.7" r="1" fill="#a11"/><circle cx="428.2" cy="796.7" r="0.8" fill="#a11"/>
<path d="M513.5,801.2 L513.5,823.8" fill="none" stroke="#141414" stroke-width="2.1" stroke-linecap="butt" stroke-linejoin="round" />
<!-- jumper wires -->
<path d="M434,488.1 L465.4,449.6" fill="none" stroke="#707070" stroke-width="1.6" stroke-linecap="round" stroke-linejoin="round" />
<path d="M434,488.1 L465.4,449.6" fill="none" stroke="#ffffff" stroke-width="0.7" stroke-linecap="round" stroke-linejoin="round" />
<path d="M428.6,496.8 L524.4,476.1" fill="none" stroke="#a9a9a9" stroke-width="1.4" stroke-linecap="round" stroke-linejoin="round" />
<path d="M465.4,449.6 L515.2,474.6" fill="none" stroke="#9a9a9a" stroke-width="2.1" stroke-linecap="round" stroke-linejoin="round" />
<path d="M500,481.4 L524.4,476.1" fill="none" stroke="#9c9c9c" stroke-width="1.5" stroke-linecap="round" stroke-linejoin="round" />
<path d="M491,470.9 L513.4,560.3" fill="none" stroke="#b3151c" stroke-width="1.9" stroke-linecap="round" stroke-linejoin="round" />
<path d="M504.6,470.9 L513.4,572.9" fill="none" stroke="#b3151c" stroke-width="1.9" stroke-linecap="round" stroke-linejoin="round" />
<path d="M517.7,470.9 L495.6,560.3" fill="none" stroke="#b3151c" stroke-width="1.9" stroke-linecap="round" stroke-linejoin="round" />
<path d="M526.7,470.9 L495.6,572.9" fill="none" stroke="#b3151c" stroke-width="1.9" stroke-linecap="round" stroke-linejoin="round" />
<path d="M491.4,466.5 L576.2,444" fill="none" stroke="#6b2d13" stroke-width="2.0" stroke-linecap="round" stroke-linejoin="round" />
<path d="M504.6,466.5 L634.5,466.5" fill="none" stroke="#6b2d13" stroke-width="2.0" stroke-linecap="round" stroke-linejoin="round" />
<path d="M594,439.5 L630,471" fill="none" stroke="#6b2d13" stroke-width="2.0" stroke-linecap="round" stroke-linejoin="round" />
<path d="M630,475.5 L630.1,569.4" fill="none" stroke="#6b2d13" stroke-width="1.9" stroke-linecap="round" stroke-linejoin="round" />
<path d="M656.8,471 L657.2,569.4" fill="none" stroke="#6b2d13" stroke-width="1.9" stroke-linecap="round" stroke-linejoin="round" />
<polygon points="747.5,421.4 777,408.5 781.5,408.5 781.5,417 776,417" fill="#ffffff"/>
<path d="M577.6,448.4 L772,417.6 L776.5,417 L781.5,417" fill="none" stroke="#df1414" stroke-width="1.6" stroke-linecap="round" stroke-linejoin="round" />
<path d="M658.4,462 L774.5,409.6 L777.5,408.6 L781.5,408.5" fill="none" stroke="#050505" stroke-width="1.7" stroke-linecap="round" stroke-linejoin="round" />
<path d="M664.2,569.4 L566.9,796.8" fill="none" stroke="#7f388e" stroke-width="1.85" stroke-linecap="round" stroke-linejoin="round" />
<path d="M634.7,569.4 L602.9,796.8" fill="none" stroke="#7f388e" stroke-width="1.85" stroke-linecap="round" stroke-linejoin="round" />
<path d="M639.1,569.4 L638.8,796.8" fill="none" stroke="#7f388e" stroke-width="1.85" stroke-linecap="round" stroke-linejoin="round" />
<path d="M643.6,569.4 L679.4,796.8" fill="none" stroke="#7f388e" stroke-width="1.85" stroke-linecap="round" stroke-linejoin="round" />
<path d="M648,569.4 L719.8,796.8" fill="none" stroke="#7f388e" stroke-width="1.85" stroke-linecap="round" stroke-linejoin="round" />
<path d="M651.1,653.8 L483.7,826.8" fill="none" stroke="#3c69c8" stroke-width="1.6" stroke-linecap="round" stroke-linejoin="round" />
<path d="M659.8,653.8 L482.2,823.3" fill="none" stroke="#3c69c8" stroke-width="1.6" stroke-linecap="round" stroke-linejoin="round" />
<path d="M695.7,653.8 L518,770.4" fill="none" stroke="#141714" stroke-width="2.1" stroke-linecap="round" stroke-linejoin="round" />
<path d="M629.20,568.50h1.8v1.8h-1.8zM633.80,568.50h1.8v1.8h-1.8zM638.20,568.50h1.8v1.8h-1.8zM642.70,568.50h1.8v1.8h-1.8zM647.10,568.50h1.8v1.8h-1.8zM656.30,568.50h1.8v1.8h-1.8zM663.30,568.50h1.8v1.8h-1.8z" fill="#7a8a2a"/>
<path d="M650.30,653.00h1.6v1.6h-1.6zM659.00,653.00h1.6v1.6h-1.6z" fill="#5bb8a8"/>
<path d="M694.80,652.90h1.8v1.8h-1.8z" fill="#3e6b2a"/>
</svg>
</body></html>
